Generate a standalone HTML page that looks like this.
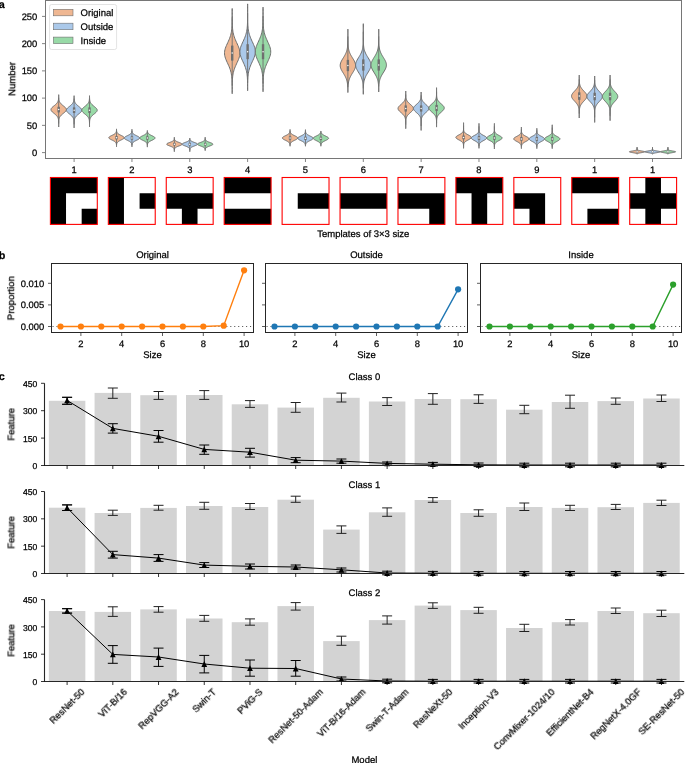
<!DOCTYPE html>
<html><head><meta charset="utf-8"><style>
html,body{margin:0;padding:0;background:#fff;}
body{width:685px;height:763px;overflow:hidden;}
svg{display:block;font-family:"Liberation Sans", sans-serif;}
text{will-change:transform;stroke:#000;stroke-width:0.25px;text-rendering:geometricPrecision;}
</style></head><body>
<svg width="685" height="763" viewBox="0 0 685 763">
<rect width="685" height="763" fill="#fff"/>
<text x="-1.30" y="7.60" font-size="10.8" text-anchor="start" font-weight="bold" fill="#000" >a</text>
<line x1="42.00" y1="152.60" x2="45.50" y2="152.60" stroke="#767676" stroke-width="0.9" />
<text x="37.30" y="155.90" font-size="9.4" text-anchor="end" font-weight="normal" fill="#000" >0</text>
<line x1="42.00" y1="125.36" x2="45.50" y2="125.36" stroke="#767676" stroke-width="0.9" />
<text x="37.30" y="128.66" font-size="9.4" text-anchor="end" font-weight="normal" fill="#000" >50</text>
<line x1="42.00" y1="98.12" x2="45.50" y2="98.12" stroke="#767676" stroke-width="0.9" />
<text x="37.30" y="101.42" font-size="9.4" text-anchor="end" font-weight="normal" fill="#000" >100</text>
<line x1="42.00" y1="70.88" x2="45.50" y2="70.88" stroke="#767676" stroke-width="0.9" />
<text x="37.30" y="74.18" font-size="9.4" text-anchor="end" font-weight="normal" fill="#000" >150</text>
<line x1="42.00" y1="43.64" x2="45.50" y2="43.64" stroke="#767676" stroke-width="0.9" />
<text x="37.30" y="46.94" font-size="9.4" text-anchor="end" font-weight="normal" fill="#000" >200</text>
<line x1="42.00" y1="16.40" x2="45.50" y2="16.40" stroke="#767676" stroke-width="0.9" />
<text x="37.30" y="19.70" font-size="9.4" text-anchor="end" font-weight="normal" fill="#000" >250</text>
<text x="0.00" y="0.00" font-size="9.5" text-anchor="middle" font-weight="normal" fill="#000" transform="translate(15.2,78.9) rotate(-90)">Number</text>
<path d="M58.68,94.70 L58.69,95.24 L58.69,95.78 L58.69,96.31 L58.70,96.85 L58.72,97.39 L58.74,97.93 L58.77,98.47 L58.82,99.01 L58.89,99.55 L58.99,100.08 L59.12,100.62 L59.29,101.16 L59.52,101.70 L59.80,102.24 L60.15,102.78 L60.57,103.31 L61.06,103.85 L61.61,104.39 L62.22,104.93 L62.87,105.47 L63.54,106.00 L64.20,106.54 L64.83,107.08 L65.38,107.62 L65.83,108.16 L66.16,108.70 L66.34,109.23 L66.37,109.77 L66.24,110.31 L65.96,110.85 L65.55,111.39 L65.03,111.93 L64.43,112.47 L63.78,113.00 L63.11,113.54 L62.45,114.08 L61.82,114.62 L61.25,115.16 L60.74,115.69 L60.29,116.23 L59.92,116.77 L59.61,117.31 L59.37,117.85 L59.17,118.39 L59.03,118.92 L58.92,119.46 L58.84,120.00 L58.79,120.54 L58.75,121.08 L58.73,121.62 L58.71,122.16 L58.70,122.69 L58.69,123.23 L58.69,123.77 L58.68,124.31 L58.68,124.85 L58.68,125.39 L58.68,125.92 L58.68,126.46 L58.68,127.00 L58.68,127.00 L58.68,126.46 L58.68,125.92 L58.68,125.39 L58.68,124.85 L58.68,124.31 L58.67,123.77 L58.67,123.23 L58.66,122.69 L58.65,122.16 L58.63,121.62 L58.61,121.08 L58.57,120.54 L58.52,120.00 L58.44,119.46 L58.33,118.92 L58.19,118.39 L57.99,117.85 L57.75,117.31 L57.44,116.77 L57.07,116.23 L56.62,115.69 L56.11,115.16 L55.54,114.62 L54.91,114.08 L54.25,113.54 L53.58,113.00 L52.93,112.47 L52.33,111.93 L51.81,111.39 L51.40,110.85 L51.12,110.31 L50.99,109.77 L51.02,109.23 L51.20,108.70 L51.53,108.16 L51.98,107.62 L52.53,107.08 L53.16,106.54 L53.82,106.00 L54.49,105.47 L55.14,104.93 L55.75,104.39 L56.30,103.85 L56.79,103.31 L57.21,102.78 L57.56,102.24 L57.84,101.70 L58.07,101.16 L58.24,100.62 L58.37,100.08 L58.47,99.55 L58.54,99.01 L58.59,98.47 L58.62,97.93 L58.64,97.39 L58.66,96.85 L58.67,96.31 L58.67,95.78 L58.67,95.24 L58.68,94.70Z" fill="#efb792" stroke="#6f6f6f" stroke-width="1" stroke-linejoin="round"/>
<line x1="58.68" y1="97.68" x2="58.68" y2="123.52" stroke="#6f6f6f" stroke-width="0.9" />
<rect x="57.48" y="106.79" width="2.40" height="5.62" fill="#6f6f6f" stroke="none" stroke-width="0" />
<circle cx="58.68" cy="109.60" r="0.75" fill="#fff"/>
<path d="M74.10,95.70 L74.11,96.24 L74.11,96.77 L74.12,97.31 L74.13,97.85 L74.15,98.38 L74.18,98.92 L74.23,99.46 L74.29,99.99 L74.38,100.53 L74.50,101.07 L74.66,101.60 L74.86,102.14 L75.13,102.68 L75.46,103.21 L75.85,103.75 L76.32,104.29 L76.85,104.82 L77.45,105.36 L78.09,105.90 L78.75,106.43 L79.41,106.97 L80.05,107.51 L80.63,108.04 L81.11,108.58 L81.49,109.12 L81.72,109.65 L81.80,110.19 L81.72,110.73 L81.50,111.26 L81.13,111.80 L80.65,112.34 L80.07,112.87 L79.44,113.41 L78.77,113.95 L78.11,114.48 L77.47,115.02 L76.88,115.56 L76.34,116.09 L75.87,116.63 L75.47,117.17 L75.14,117.70 L74.87,118.24 L74.66,118.78 L74.50,119.31 L74.38,119.85 L74.29,120.39 L74.23,120.92 L74.18,121.46 L74.15,122.00 L74.13,122.53 L74.12,123.07 L74.11,123.61 L74.11,124.14 L74.10,124.68 L74.10,125.22 L74.10,125.75 L74.10,126.29 L74.10,126.83 L74.10,127.36 L74.10,127.90 L74.10,127.90 L74.10,127.36 L74.10,126.83 L74.10,126.29 L74.10,125.75 L74.10,125.22 L74.10,124.68 L74.09,124.14 L74.09,123.61 L74.08,123.07 L74.07,122.53 L74.05,122.00 L74.02,121.46 L73.97,120.92 L73.91,120.39 L73.82,119.85 L73.70,119.31 L73.54,118.78 L73.33,118.24 L73.06,117.70 L72.73,117.17 L72.33,116.63 L71.86,116.09 L71.32,115.56 L70.73,115.02 L70.09,114.48 L69.43,113.95 L68.76,113.41 L68.13,112.87 L67.55,112.34 L67.07,111.80 L66.70,111.26 L66.48,110.73 L66.40,110.19 L66.48,109.65 L66.71,109.12 L67.09,108.58 L67.57,108.04 L68.15,107.51 L68.79,106.97 L69.45,106.43 L70.11,105.90 L70.75,105.36 L71.35,104.82 L71.88,104.29 L72.35,103.75 L72.74,103.21 L73.07,102.68 L73.34,102.14 L73.54,101.60 L73.70,101.07 L73.82,100.53 L73.91,99.99 L73.97,99.46 L74.02,98.92 L74.05,98.38 L74.07,97.85 L74.08,97.31 L74.09,96.77 L74.09,96.24 L74.10,95.70Z" fill="#abc9ea" stroke="#6f6f6f" stroke-width="1" stroke-linejoin="round"/>
<line x1="74.10" y1="98.60" x2="74.10" y2="124.36" stroke="#6f6f6f" stroke-width="0.9" />
<rect x="72.90" y="107.39" width="2.40" height="5.62" fill="#6f6f6f" stroke="none" stroke-width="0" />
<circle cx="74.10" cy="110.20" r="0.75" fill="#fff"/>
<path d="M89.52,95.70 L89.53,96.22 L89.53,96.74 L89.54,97.27 L89.55,97.79 L89.57,98.31 L89.60,98.83 L89.64,99.35 L89.69,99.87 L89.77,100.39 L89.88,100.92 L90.02,101.44 L90.21,101.96 L90.45,102.48 L90.74,103.00 L91.10,103.53 L91.52,104.05 L92.01,104.57 L92.56,105.09 L93.16,105.61 L93.80,106.13 L94.45,106.66 L95.08,107.18 L95.68,107.70 L96.22,108.22 L96.66,108.74 L96.98,109.26 L97.17,109.78 L97.22,110.31 L97.11,110.83 L96.87,111.35 L96.49,111.87 L96.01,112.39 L95.44,112.91 L94.83,113.44 L94.18,113.96 L93.53,114.48 L92.91,115.00 L92.33,115.52 L91.81,116.05 L91.34,116.57 L90.94,117.09 L90.61,117.61 L90.34,118.13 L90.13,118.65 L89.96,119.17 L89.83,119.70 L89.74,120.22 L89.67,120.74 L89.62,121.26 L89.59,121.78 L89.56,122.31 L89.55,122.83 L89.54,123.35 L89.53,123.87 L89.53,124.39 L89.52,124.91 L89.52,125.44 L89.52,125.96 L89.52,126.48 L89.52,127.00 L89.52,127.00 L89.52,126.48 L89.52,125.96 L89.52,125.44 L89.52,124.91 L89.51,124.39 L89.51,123.87 L89.50,123.35 L89.49,122.83 L89.48,122.31 L89.45,121.78 L89.42,121.26 L89.37,120.74 L89.30,120.22 L89.21,119.70 L89.08,119.17 L88.91,118.65 L88.70,118.13 L88.43,117.61 L88.10,117.09 L87.70,116.57 L87.23,116.05 L86.71,115.52 L86.13,115.00 L85.51,114.48 L84.86,113.96 L84.21,113.44 L83.60,112.91 L83.03,112.39 L82.55,111.87 L82.17,111.35 L81.93,110.83 L81.82,110.31 L81.87,109.78 L82.06,109.26 L82.38,108.74 L82.82,108.22 L83.36,107.70 L83.96,107.18 L84.59,106.66 L85.24,106.13 L85.88,105.61 L86.48,105.09 L87.03,104.57 L87.52,104.05 L87.94,103.53 L88.30,103.00 L88.59,102.48 L88.83,101.96 L89.02,101.44 L89.16,100.92 L89.27,100.39 L89.35,99.87 L89.40,99.35 L89.44,98.83 L89.47,98.31 L89.49,97.79 L89.50,97.27 L89.51,96.74 L89.51,96.22 L89.52,95.70Z" fill="#98daa7" stroke="#6f6f6f" stroke-width="1" stroke-linejoin="round"/>
<line x1="89.52" y1="98.60" x2="89.52" y2="123.64" stroke="#6f6f6f" stroke-width="0.9" />
<rect x="88.32" y="107.39" width="2.40" height="5.62" fill="#6f6f6f" stroke="none" stroke-width="0" />
<circle cx="89.52" cy="110.20" r="0.75" fill="#fff"/>
<path d="M116.52,128.90 L116.53,129.20 L116.53,129.50 L116.54,129.80 L116.55,130.09 L116.56,130.39 L116.58,130.69 L116.61,130.99 L116.65,131.29 L116.71,131.59 L116.79,131.88 L116.90,132.18 L117.04,132.48 L117.22,132.78 L117.45,133.08 L117.73,133.38 L118.07,133.67 L118.47,133.97 L118.93,134.27 L119.44,134.57 L120.00,134.87 L120.60,135.17 L121.22,135.46 L121.83,135.76 L122.42,136.06 L122.97,136.36 L123.44,136.66 L123.81,136.96 L124.07,137.25 L124.20,137.55 L124.20,137.85 L124.07,138.15 L123.81,138.45 L123.43,138.75 L122.96,139.04 L122.42,139.34 L121.83,139.64 L121.21,139.94 L120.60,140.24 L120.00,140.53 L119.44,140.83 L118.93,141.13 L118.47,141.43 L118.07,141.73 L117.73,142.03 L117.45,142.33 L117.22,142.62 L117.04,142.92 L116.90,143.22 L116.79,143.52 L116.71,143.82 L116.65,144.12 L116.61,144.41 L116.58,144.71 L116.56,145.01 L116.55,145.31 L116.54,145.61 L116.53,145.91 L116.53,146.20 L116.52,146.50 L116.52,146.80 L116.52,146.80 L116.52,146.50 L116.51,146.20 L116.51,145.91 L116.50,145.61 L116.49,145.31 L116.48,145.01 L116.46,144.71 L116.43,144.41 L116.39,144.12 L116.33,143.82 L116.25,143.52 L116.14,143.22 L116.00,142.92 L115.82,142.62 L115.59,142.33 L115.31,142.03 L114.97,141.73 L114.57,141.43 L114.11,141.13 L113.60,140.83 L113.04,140.53 L112.44,140.24 L111.83,139.94 L111.21,139.64 L110.62,139.34 L110.08,139.04 L109.61,138.75 L109.23,138.45 L108.97,138.15 L108.84,137.85 L108.84,137.55 L108.97,137.25 L109.23,136.96 L109.60,136.66 L110.07,136.36 L110.62,136.06 L111.21,135.76 L111.82,135.46 L112.44,135.17 L113.04,134.87 L113.60,134.57 L114.11,134.27 L114.57,133.97 L114.97,133.67 L115.31,133.38 L115.59,133.08 L115.82,132.78 L116.00,132.48 L116.14,132.18 L116.25,131.88 L116.33,131.59 L116.39,131.29 L116.43,130.99 L116.46,130.69 L116.48,130.39 L116.49,130.09 L116.50,129.80 L116.51,129.50 L116.51,129.20 L116.52,128.90Z" fill="#efb792" stroke="#6f6f6f" stroke-width="1" stroke-linejoin="round"/>
<line x1="116.52" y1="130.66" x2="116.52" y2="144.98" stroke="#6f6f6f" stroke-width="0.9" />
<rect x="115.32" y="136.01" width="2.40" height="3.38" fill="#6f6f6f" stroke="none" stroke-width="0" />
<circle cx="116.52" cy="137.70" r="0.75" fill="#fff"/>
<path d="M131.94,129.30 L131.95,129.59 L131.95,129.88 L131.96,130.18 L131.97,130.47 L131.98,130.76 L132.01,131.05 L132.04,131.34 L132.08,131.63 L132.14,131.93 L132.22,132.22 L132.33,132.51 L132.47,132.80 L132.65,133.09 L132.88,133.38 L133.15,133.68 L133.48,133.97 L133.87,134.26 L134.32,134.55 L134.81,134.84 L135.36,135.13 L135.94,135.43 L136.54,135.72 L137.14,136.01 L137.73,136.30 L138.27,136.59 L138.75,136.88 L139.14,137.18 L139.43,137.47 L139.60,137.76 L139.64,138.05 L139.55,138.34 L139.34,138.63 L139.02,138.93 L138.59,139.22 L138.09,139.51 L137.53,139.80 L136.94,140.09 L136.33,140.38 L135.74,140.68 L135.17,140.97 L134.64,141.26 L134.16,141.55 L133.73,141.84 L133.36,142.13 L133.05,142.43 L132.80,142.72 L132.59,143.01 L132.42,143.30 L132.29,143.59 L132.19,143.88 L132.12,144.18 L132.06,144.47 L132.02,144.76 L132.00,145.05 L131.98,145.34 L131.96,145.63 L131.96,145.93 L131.95,146.22 L131.95,146.51 L131.94,146.80 L131.94,146.80 L131.93,146.51 L131.93,146.22 L131.92,145.93 L131.92,145.63 L131.90,145.34 L131.88,145.05 L131.86,144.76 L131.82,144.47 L131.76,144.18 L131.69,143.88 L131.59,143.59 L131.46,143.30 L131.29,143.01 L131.08,142.72 L130.83,142.43 L130.52,142.13 L130.15,141.84 L129.72,141.55 L129.24,141.26 L128.71,140.97 L128.14,140.68 L127.55,140.38 L126.94,140.09 L126.35,139.80 L125.79,139.51 L125.29,139.22 L124.86,138.93 L124.54,138.63 L124.33,138.34 L124.24,138.05 L124.28,137.76 L124.45,137.47 L124.74,137.18 L125.13,136.88 L125.61,136.59 L126.15,136.30 L126.74,136.01 L127.34,135.72 L127.94,135.43 L128.52,135.13 L129.07,134.84 L129.56,134.55 L130.01,134.26 L130.40,133.97 L130.73,133.68 L131.00,133.38 L131.23,133.09 L131.41,132.80 L131.55,132.51 L131.66,132.22 L131.74,131.93 L131.80,131.63 L131.84,131.34 L131.87,131.05 L131.90,130.76 L131.91,130.47 L131.92,130.18 L131.93,129.88 L131.93,129.59 L131.94,129.30Z" fill="#abc9ea" stroke="#6f6f6f" stroke-width="1" stroke-linejoin="round"/>
<line x1="131.94" y1="131.04" x2="131.94" y2="145.04" stroke="#6f6f6f" stroke-width="0.9" />
<rect x="130.74" y="136.31" width="2.40" height="3.38" fill="#6f6f6f" stroke="none" stroke-width="0" />
<circle cx="131.94" cy="138.00" r="0.75" fill="#fff"/>
<path d="M147.39,130.50 L147.40,130.78 L147.43,131.05 L147.46,131.33 L147.50,131.61 L147.55,131.88 L147.63,132.16 L147.72,132.44 L147.85,132.71 L148.01,132.99 L148.20,133.27 L148.44,133.54 L148.73,133.82 L149.07,134.10 L149.46,134.37 L149.90,134.65 L150.39,134.93 L150.92,135.20 L151.47,135.48 L152.04,135.76 L152.62,136.03 L153.17,136.31 L153.68,136.59 L154.14,136.86 L154.52,137.14 L154.81,137.42 L154.99,137.69 L155.06,137.97 L155.01,138.25 L154.85,138.52 L154.59,138.80 L154.23,139.08 L153.79,139.35 L153.28,139.63 L152.74,139.91 L152.17,140.18 L151.60,140.46 L151.03,140.74 L150.50,141.01 L150.00,141.29 L149.55,141.57 L149.15,141.84 L148.80,142.12 L148.50,142.40 L148.25,142.67 L148.04,142.95 L147.88,143.23 L147.75,143.50 L147.64,143.78 L147.57,144.06 L147.51,144.33 L147.46,144.61 L147.43,144.89 L147.41,145.16 L147.39,145.44 L147.38,145.72 L147.37,145.99 L147.37,146.27 L147.37,146.55 L147.36,146.82 L147.36,147.10 L147.36,147.10 L147.36,146.82 L147.35,146.55 L147.35,146.27 L147.35,145.99 L147.34,145.72 L147.33,145.44 L147.31,145.16 L147.29,144.89 L147.26,144.61 L147.21,144.33 L147.15,144.06 L147.08,143.78 L146.97,143.50 L146.84,143.23 L146.68,142.95 L146.47,142.67 L146.22,142.40 L145.92,142.12 L145.57,141.84 L145.17,141.57 L144.72,141.29 L144.22,141.01 L143.69,140.74 L143.12,140.46 L142.55,140.18 L141.98,139.91 L141.44,139.63 L140.93,139.35 L140.49,139.08 L140.13,138.80 L139.87,138.52 L139.71,138.25 L139.66,137.97 L139.73,137.69 L139.91,137.42 L140.20,137.14 L140.58,136.86 L141.04,136.59 L141.55,136.31 L142.10,136.03 L142.68,135.76 L143.25,135.48 L143.80,135.20 L144.33,134.93 L144.82,134.65 L145.26,134.37 L145.65,134.10 L145.99,133.82 L146.28,133.54 L146.52,133.27 L146.71,132.99 L146.87,132.71 L147.00,132.44 L147.09,132.16 L147.17,131.88 L147.22,131.61 L147.26,131.33 L147.29,131.05 L147.32,130.78 L147.33,130.50Z" fill="#98daa7" stroke="#6f6f6f" stroke-width="1" stroke-linejoin="round"/>
<line x1="147.36" y1="132.00" x2="147.36" y2="145.28" stroke="#6f6f6f" stroke-width="0.9" />
<rect x="146.16" y="136.31" width="2.40" height="3.38" fill="#6f6f6f" stroke="none" stroke-width="0" />
<circle cx="147.36" cy="138.00" r="0.75" fill="#fff"/>
<path d="M174.36,137.20 L174.36,137.44 L174.37,137.68 L174.37,137.92 L174.38,138.17 L174.39,138.41 L174.41,138.65 L174.44,138.89 L174.48,139.13 L174.53,139.38 L174.61,139.62 L174.71,139.86 L174.85,140.10 L175.04,140.34 L175.27,140.58 L175.56,140.82 L175.91,141.07 L176.33,141.31 L176.81,141.55 L177.35,141.79 L177.94,142.03 L178.56,142.27 L179.21,142.52 L179.84,142.76 L180.45,143.00 L180.99,143.24 L181.44,143.48 L181.78,143.72 L181.99,143.97 L182.06,144.21 L181.98,144.45 L181.76,144.69 L181.41,144.93 L180.95,145.17 L180.41,145.42 L179.80,145.66 L179.16,145.90 L178.52,146.14 L177.90,146.38 L177.31,146.62 L176.77,146.87 L176.30,147.11 L175.88,147.35 L175.54,147.59 L175.25,147.83 L175.02,148.07 L174.84,148.32 L174.71,148.56 L174.60,148.80 L174.53,149.04 L174.47,149.28 L174.44,149.52 L174.41,149.77 L174.39,150.01 L174.38,150.25 L174.37,150.49 L174.37,150.73 L174.36,150.97 L174.36,151.22 L174.36,151.46 L174.36,151.70 L174.36,151.70 L174.36,151.46 L174.36,151.22 L174.36,150.97 L174.35,150.73 L174.35,150.49 L174.34,150.25 L174.33,150.01 L174.31,149.77 L174.28,149.52 L174.25,149.28 L174.19,149.04 L174.12,148.80 L174.01,148.56 L173.88,148.32 L173.70,148.07 L173.47,147.83 L173.18,147.59 L172.84,147.35 L172.42,147.11 L171.95,146.87 L171.41,146.62 L170.82,146.38 L170.20,146.14 L169.56,145.90 L168.92,145.66 L168.31,145.42 L167.77,145.17 L167.31,144.93 L166.96,144.69 L166.74,144.45 L166.66,144.21 L166.73,143.97 L166.94,143.72 L167.28,143.48 L167.73,143.24 L168.27,143.00 L168.88,142.76 L169.51,142.52 L170.16,142.27 L170.78,142.03 L171.37,141.79 L171.91,141.55 L172.39,141.31 L172.81,141.07 L173.16,140.82 L173.45,140.58 L173.68,140.34 L173.87,140.10 L174.01,139.86 L174.11,139.62 L174.19,139.38 L174.24,139.13 L174.28,138.89 L174.31,138.65 L174.33,138.41 L174.34,138.17 L174.35,137.92 L174.35,137.68 L174.36,137.44 L174.36,137.20Z" fill="#efb792" stroke="#6f6f6f" stroke-width="1" stroke-linejoin="round"/>
<line x1="174.36" y1="138.60" x2="174.36" y2="150.20" stroke="#6f6f6f" stroke-width="0.9" />
<rect x="173.16" y="142.89" width="2.40" height="2.62" fill="#6f6f6f" stroke="none" stroke-width="0" />
<circle cx="174.36" cy="144.20" r="0.75" fill="#fff"/>
<path d="M189.79,138.00 L189.80,138.23 L189.82,138.46 L189.83,138.69 L189.86,138.91 L189.90,139.14 L189.95,139.37 L190.02,139.60 L190.12,139.83 L190.25,140.06 L190.41,140.28 L190.62,140.51 L190.87,140.74 L191.18,140.97 L191.55,141.20 L191.97,141.43 L192.45,141.65 L192.98,141.88 L193.55,142.11 L194.15,142.34 L194.76,142.57 L195.36,142.79 L195.92,143.02 L196.43,143.25 L196.86,143.48 L197.18,143.71 L197.39,143.94 L197.48,144.16 L197.43,144.39 L197.26,144.62 L196.97,144.85 L196.57,145.08 L196.08,145.31 L195.54,145.53 L194.95,145.76 L194.34,145.99 L193.74,146.22 L193.15,146.45 L192.61,146.68 L192.11,146.91 L191.67,147.13 L191.29,147.36 L190.96,147.59 L190.69,147.82 L190.47,148.05 L190.29,148.28 L190.15,148.50 L190.05,148.73 L189.97,148.96 L189.91,149.19 L189.87,149.42 L189.84,149.64 L189.82,149.87 L189.81,150.10 L189.80,150.33 L189.79,150.56 L189.79,150.79 L189.78,151.01 L189.78,151.24 L189.78,151.47 L189.78,151.70 L189.78,151.70 L189.78,151.47 L189.78,151.24 L189.78,151.01 L189.77,150.79 L189.77,150.56 L189.76,150.33 L189.75,150.10 L189.74,149.87 L189.72,149.64 L189.69,149.42 L189.65,149.19 L189.59,148.96 L189.51,148.73 L189.41,148.50 L189.27,148.28 L189.09,148.05 L188.87,147.82 L188.60,147.59 L188.27,147.36 L187.89,147.13 L187.45,146.91 L186.95,146.68 L186.41,146.45 L185.82,146.22 L185.22,145.99 L184.61,145.76 L184.02,145.53 L183.48,145.31 L182.99,145.08 L182.59,144.85 L182.30,144.62 L182.13,144.39 L182.08,144.16 L182.17,143.94 L182.38,143.71 L182.70,143.48 L183.13,143.25 L183.64,143.02 L184.20,142.79 L184.80,142.57 L185.41,142.34 L186.01,142.11 L186.58,141.88 L187.11,141.65 L187.59,141.43 L188.01,141.20 L188.38,140.97 L188.69,140.74 L188.94,140.51 L189.15,140.28 L189.31,140.06 L189.44,139.83 L189.54,139.60 L189.61,139.37 L189.66,139.14 L189.70,138.91 L189.73,138.69 L189.74,138.46 L189.76,138.23 L189.77,138.00Z" fill="#abc9ea" stroke="#6f6f6f" stroke-width="1" stroke-linejoin="round"/>
<line x1="189.78" y1="139.24" x2="189.78" y2="150.20" stroke="#6f6f6f" stroke-width="0.9" />
<rect x="188.58" y="142.89" width="2.40" height="2.62" fill="#6f6f6f" stroke="none" stroke-width="0" />
<circle cx="189.78" cy="144.20" r="0.75" fill="#fff"/>
<path d="M205.20,137.20 L205.20,137.42 L205.21,137.65 L205.21,137.87 L205.22,138.09 L205.23,138.32 L205.24,138.54 L205.26,138.76 L205.29,138.99 L205.33,139.21 L205.39,139.43 L205.46,139.66 L205.57,139.88 L205.70,140.10 L205.86,140.33 L206.07,140.55 L206.33,140.77 L206.64,141.00 L207.01,141.22 L207.43,141.44 L207.90,141.67 L208.42,141.89 L208.98,142.11 L209.57,142.34 L210.16,142.56 L210.75,142.78 L211.30,143.01 L211.80,143.23 L212.23,143.45 L212.56,143.68 L212.79,143.90 L212.89,144.12 L212.87,144.35 L212.73,144.57 L212.47,144.79 L212.11,145.02 L211.65,145.24 L211.13,145.46 L210.57,145.69 L209.98,145.91 L209.38,146.13 L208.80,146.36 L208.25,146.58 L207.75,146.80 L207.29,147.03 L206.89,147.25 L206.54,147.47 L206.25,147.70 L206.00,147.92 L205.81,148.14 L205.65,148.37 L205.53,148.59 L205.44,148.81 L205.37,149.04 L205.32,149.26 L205.28,149.48 L205.25,149.71 L205.24,149.93 L205.22,150.15 L205.22,150.38 L205.21,150.60 L205.19,150.60 L205.18,150.38 L205.18,150.15 L205.16,149.93 L205.15,149.71 L205.12,149.48 L205.08,149.26 L205.03,149.04 L204.96,148.81 L204.87,148.59 L204.75,148.37 L204.59,148.14 L204.40,147.92 L204.15,147.70 L203.86,147.47 L203.51,147.25 L203.11,147.03 L202.65,146.80 L202.15,146.58 L201.60,146.36 L201.02,146.13 L200.42,145.91 L199.83,145.69 L199.27,145.46 L198.75,145.24 L198.29,145.02 L197.93,144.79 L197.67,144.57 L197.53,144.35 L197.51,144.12 L197.61,143.90 L197.84,143.68 L198.17,143.45 L198.60,143.23 L199.10,143.01 L199.65,142.78 L200.24,142.56 L200.83,142.34 L201.42,142.11 L201.98,141.89 L202.50,141.67 L202.97,141.44 L203.39,141.22 L203.76,141.00 L204.07,140.77 L204.33,140.55 L204.54,140.33 L204.70,140.10 L204.83,139.88 L204.94,139.66 L205.01,139.43 L205.07,139.21 L205.11,138.99 L205.14,138.76 L205.16,138.54 L205.17,138.32 L205.18,138.09 L205.19,137.87 L205.19,137.65 L205.20,137.42 L205.20,137.20Z" fill="#98daa7" stroke="#6f6f6f" stroke-width="1" stroke-linejoin="round"/>
<line x1="205.20" y1="138.60" x2="205.20" y2="149.32" stroke="#6f6f6f" stroke-width="0.9" />
<rect x="204.00" y="142.89" width="2.40" height="2.62" fill="#6f6f6f" stroke="none" stroke-width="0" />
<circle cx="205.20" cy="144.20" r="0.75" fill="#fff"/>
<path d="M232.20,8.50 L232.20,9.92 L232.20,11.34 L232.20,12.76 L232.20,14.18 L232.21,15.60 L232.21,17.02 L232.22,18.44 L232.23,19.86 L232.25,21.28 L232.28,22.70 L232.32,24.12 L232.37,25.54 L232.45,26.96 L232.56,28.38 L232.71,29.80 L232.90,31.22 L233.15,32.64 L233.46,34.06 L233.83,35.48 L234.27,36.90 L234.78,38.32 L235.35,39.74 L235.98,41.16 L236.63,42.58 L237.29,44.00 L237.93,45.42 L238.53,46.84 L239.05,48.26 L239.46,49.68 L239.75,51.10 L239.89,52.52 L239.87,53.94 L239.71,55.36 L239.40,56.78 L238.96,58.20 L238.43,59.62 L237.82,61.04 L237.17,62.46 L236.51,63.88 L235.86,65.30 L235.25,66.72 L234.68,68.14 L234.19,69.56 L233.76,70.98 L233.40,72.40 L233.10,73.82 L232.86,75.24 L232.68,76.66 L232.54,78.08 L232.44,79.50 L232.36,80.92 L232.31,82.34 L232.27,83.76 L232.24,85.18 L232.23,86.60 L232.22,88.02 L232.21,89.44 L232.21,90.86 L232.20,92.28 L232.20,93.70 L232.20,93.70 L232.20,92.28 L232.19,90.86 L232.19,89.44 L232.18,88.02 L232.17,86.60 L232.16,85.18 L232.13,83.76 L232.09,82.34 L232.04,80.92 L231.96,79.50 L231.86,78.08 L231.72,76.66 L231.54,75.24 L231.30,73.82 L231.00,72.40 L230.64,70.98 L230.21,69.56 L229.72,68.14 L229.15,66.72 L228.54,65.30 L227.89,63.88 L227.23,62.46 L226.58,61.04 L225.97,59.62 L225.44,58.20 L225.00,56.78 L224.69,55.36 L224.53,53.94 L224.51,52.52 L224.65,51.10 L224.94,49.68 L225.35,48.26 L225.87,46.84 L226.47,45.42 L227.11,44.00 L227.77,42.58 L228.42,41.16 L229.05,39.74 L229.62,38.32 L230.13,36.90 L230.57,35.48 L230.94,34.06 L231.25,32.64 L231.50,31.22 L231.69,29.80 L231.84,28.38 L231.95,26.96 L232.03,25.54 L232.08,24.12 L232.12,22.70 L232.15,21.28 L232.17,19.86 L232.18,18.44 L232.19,17.02 L232.19,15.60 L232.20,14.18 L232.20,12.76 L232.20,11.34 L232.20,9.92 L232.20,8.50Z" fill="#efb792" stroke="#6f6f6f" stroke-width="1" stroke-linejoin="round"/>
<line x1="232.20" y1="17.42" x2="232.20" y2="85.58" stroke="#6f6f6f" stroke-width="0.9" />
<rect x="231.00" y="45.60" width="2.40" height="15.00" fill="#6f6f6f" stroke="none" stroke-width="0" />
<circle cx="232.20" cy="53.10" r="0.75" fill="#fff"/>
<path d="M247.62,3.90 L247.62,5.35 L247.62,6.79 L247.62,8.24 L247.62,9.69 L247.62,11.13 L247.62,12.58 L247.63,14.03 L247.63,15.47 L247.64,16.92 L247.65,18.37 L247.67,19.81 L247.69,21.26 L247.74,22.71 L247.79,24.15 L247.88,25.60 L247.99,27.05 L248.14,28.49 L248.34,29.94 L248.60,31.39 L248.92,32.83 L249.31,34.28 L249.77,35.73 L250.30,37.17 L250.89,38.62 L251.53,40.07 L252.20,41.51 L252.88,42.96 L253.52,44.41 L254.11,45.85 L254.61,47.30 L254.99,48.75 L255.23,50.19 L255.32,51.64 L255.25,53.09 L255.02,54.53 L254.65,55.98 L254.16,57.43 L253.57,58.87 L252.93,60.32 L252.26,61.77 L251.59,63.21 L250.94,64.66 L250.35,66.11 L249.81,67.55 L249.34,69.00 L248.95,70.45 L248.62,71.89 L248.36,73.34 L248.16,74.79 L248.00,76.23 L247.88,77.68 L247.80,79.13 L247.74,80.57 L247.70,82.02 L247.67,83.47 L247.65,84.91 L247.64,86.36 L247.63,87.81 L247.63,89.25 L247.62,90.70 L247.62,90.70 L247.61,89.25 L247.61,87.81 L247.60,86.36 L247.59,84.91 L247.57,83.47 L247.54,82.02 L247.50,80.57 L247.44,79.13 L247.36,77.68 L247.24,76.23 L247.08,74.79 L246.88,73.34 L246.62,71.89 L246.29,70.45 L245.90,69.00 L245.43,67.55 L244.89,66.11 L244.30,64.66 L243.65,63.21 L242.98,61.77 L242.31,60.32 L241.67,58.87 L241.08,57.43 L240.59,55.98 L240.22,54.53 L239.99,53.09 L239.92,51.64 L240.01,50.19 L240.25,48.75 L240.63,47.30 L241.13,45.85 L241.72,44.41 L242.36,42.96 L243.04,41.51 L243.71,40.07 L244.35,38.62 L244.94,37.17 L245.47,35.73 L245.93,34.28 L246.32,32.83 L246.64,31.39 L246.90,29.94 L247.10,28.49 L247.25,27.05 L247.36,25.60 L247.45,24.15 L247.50,22.71 L247.55,21.26 L247.57,19.81 L247.59,18.37 L247.60,16.92 L247.61,15.47 L247.61,14.03 L247.62,12.58 L247.62,11.13 L247.62,9.69 L247.62,8.24 L247.62,6.79 L247.62,5.35 L247.62,3.90Z" fill="#abc9ea" stroke="#6f6f6f" stroke-width="1" stroke-linejoin="round"/>
<line x1="247.62" y1="13.46" x2="247.62" y2="82.90" stroke="#6f6f6f" stroke-width="0.9" />
<rect x="246.42" y="44.20" width="2.40" height="15.00" fill="#6f6f6f" stroke="none" stroke-width="0" />
<circle cx="247.62" cy="51.70" r="0.75" fill="#fff"/>
<path d="M263.04,7.20 L263.04,8.61 L263.04,10.02 L263.04,11.43 L263.04,12.83 L263.05,14.24 L263.05,15.65 L263.06,17.06 L263.07,18.47 L263.09,19.88 L263.12,21.28 L263.15,22.69 L263.21,24.10 L263.29,25.51 L263.40,26.92 L263.54,28.32 L263.73,29.73 L263.97,31.14 L264.27,32.55 L264.64,33.96 L265.07,35.37 L265.57,36.77 L266.13,38.18 L266.74,39.59 L267.38,41.00 L268.04,42.41 L268.68,43.82 L269.28,45.23 L269.81,46.63 L270.24,48.04 L270.55,49.45 L270.71,50.86 L270.73,52.27 L270.59,53.68 L270.31,55.08 L269.90,56.49 L269.39,57.90 L268.80,59.31 L268.17,60.72 L267.51,62.12 L266.86,63.53 L266.24,64.94 L265.67,66.35 L265.16,67.76 L264.71,69.17 L264.34,70.58 L264.02,71.98 L263.77,73.39 L263.57,74.80 L263.42,76.21 L263.31,77.62 L263.22,79.03 L263.16,80.43 L263.12,81.84 L263.09,83.25 L263.07,84.66 L263.06,86.07 L263.05,87.48 L263.05,88.88 L263.04,90.29 L263.04,91.70 L263.04,91.70 L263.04,90.29 L263.03,88.88 L263.03,87.48 L263.02,86.07 L263.01,84.66 L262.99,83.25 L262.96,81.84 L262.92,80.43 L262.86,79.03 L262.77,77.62 L262.66,76.21 L262.51,74.80 L262.31,73.39 L262.06,71.98 L261.74,70.58 L261.37,69.17 L260.92,67.76 L260.41,66.35 L259.84,64.94 L259.22,63.53 L258.57,62.12 L257.91,60.72 L257.28,59.31 L256.69,57.90 L256.18,56.49 L255.77,55.08 L255.49,53.68 L255.35,52.27 L255.37,50.86 L255.53,49.45 L255.84,48.04 L256.27,46.63 L256.80,45.23 L257.40,43.82 L258.04,42.41 L258.70,41.00 L259.34,39.59 L259.95,38.18 L260.51,36.77 L261.01,35.37 L261.44,33.96 L261.81,32.55 L262.11,31.14 L262.35,29.73 L262.54,28.32 L262.68,26.92 L262.79,25.51 L262.87,24.10 L262.93,22.69 L262.96,21.28 L262.99,19.88 L263.01,18.47 L263.02,17.06 L263.03,15.65 L263.03,14.24 L263.04,12.83 L263.04,11.43 L263.04,10.02 L263.04,8.61 L263.04,7.20Z" fill="#98daa7" stroke="#6f6f6f" stroke-width="1" stroke-linejoin="round"/>
<line x1="263.04" y1="16.10" x2="263.04" y2="83.70" stroke="#6f6f6f" stroke-width="0.9" />
<rect x="261.84" y="44.20" width="2.40" height="15.00" fill="#6f6f6f" stroke="none" stroke-width="0" />
<circle cx="263.04" cy="51.70" r="0.75" fill="#fff"/>
<path d="M290.05,129.50 L290.05,129.78 L290.06,130.06 L290.06,130.34 L290.08,130.61 L290.09,130.89 L290.12,131.17 L290.15,131.45 L290.20,131.73 L290.26,132.00 L290.35,132.28 L290.45,132.56 L290.60,132.84 L290.77,133.12 L290.99,133.40 L291.25,133.68 L291.57,133.95 L291.93,134.23 L292.35,134.51 L292.82,134.79 L293.33,135.07 L293.88,135.34 L294.45,135.62 L295.02,135.90 L295.59,136.18 L296.13,136.46 L296.62,136.74 L297.04,137.01 L297.37,137.29 L297.60,137.57 L297.72,137.85 L297.73,138.13 L297.62,138.41 L297.39,138.69 L297.07,138.96 L296.65,139.24 L296.17,139.52 L295.63,139.80 L295.07,140.08 L294.49,140.35 L293.92,140.63 L293.37,140.91 L292.86,141.19 L292.39,141.47 L291.96,141.75 L291.59,142.03 L291.28,142.30 L291.01,142.58 L290.79,142.86 L290.61,143.14 L290.46,143.42 L290.35,143.69 L290.27,143.97 L290.20,144.25 L290.15,144.53 L290.12,144.81 L290.09,145.09 L290.08,145.36 L290.06,145.64 L290.06,145.92 L290.05,146.20 L290.03,146.20 L290.02,145.92 L290.02,145.64 L290.00,145.36 L289.99,145.09 L289.96,144.81 L289.93,144.53 L289.88,144.25 L289.81,143.97 L289.73,143.69 L289.62,143.42 L289.47,143.14 L289.29,142.86 L289.07,142.58 L288.80,142.30 L288.49,142.03 L288.12,141.75 L287.69,141.47 L287.22,141.19 L286.71,140.91 L286.16,140.63 L285.59,140.35 L285.01,140.08 L284.45,139.80 L283.91,139.52 L283.43,139.24 L283.01,138.96 L282.69,138.69 L282.46,138.41 L282.35,138.13 L282.36,137.85 L282.48,137.57 L282.71,137.29 L283.04,137.01 L283.46,136.74 L283.95,136.46 L284.49,136.18 L285.06,135.90 L285.63,135.62 L286.20,135.34 L286.75,135.07 L287.26,134.79 L287.73,134.51 L288.15,134.23 L288.51,133.95 L288.83,133.68 L289.09,133.40 L289.31,133.12 L289.48,132.84 L289.63,132.56 L289.73,132.28 L289.82,132.00 L289.88,131.73 L289.93,131.45 L289.96,131.17 L289.99,130.89 L290.00,130.61 L290.02,130.34 L290.02,130.06 L290.03,129.78 L290.03,129.50Z" fill="#efb792" stroke="#6f6f6f" stroke-width="1" stroke-linejoin="round"/>
<line x1="290.04" y1="131.20" x2="290.04" y2="144.56" stroke="#6f6f6f" stroke-width="0.9" />
<rect x="288.84" y="136.31" width="2.40" height="3.38" fill="#6f6f6f" stroke="none" stroke-width="0" />
<circle cx="290.04" cy="138.00" r="0.75" fill="#fff"/>
<path d="M305.47,129.70 L305.47,129.97 L305.47,130.25 L305.48,130.52 L305.49,130.80 L305.50,131.07 L305.53,131.35 L305.55,131.62 L305.59,131.90 L305.65,132.17 L305.72,132.45 L305.82,132.72 L305.94,133.00 L306.10,133.27 L306.29,133.55 L306.53,133.82 L306.81,134.10 L307.14,134.38 L307.53,134.65 L307.96,134.92 L308.44,135.20 L308.96,135.47 L309.51,135.75 L310.08,136.02 L310.65,136.30 L311.20,136.57 L311.72,136.85 L312.18,137.12 L312.57,137.40 L312.87,137.67 L313.07,137.95 L313.16,138.22 L313.13,138.50 L312.99,138.77 L312.74,139.05 L312.40,139.32 L311.98,139.60 L311.49,139.88 L310.95,140.15 L310.39,140.42 L309.82,140.70 L309.26,140.97 L308.72,141.25 L308.22,141.52 L307.76,141.80 L307.34,142.07 L306.98,142.35 L306.67,142.62 L306.41,142.90 L306.20,143.17 L306.02,143.45 L305.88,143.72 L305.77,144.00 L305.69,144.27 L305.62,144.55 L305.57,144.82 L305.54,145.10 L305.51,145.38 L305.50,145.65 L305.48,145.92 L305.48,146.20 L305.44,146.20 L305.44,145.92 L305.42,145.65 L305.41,145.38 L305.38,145.10 L305.35,144.82 L305.30,144.55 L305.23,144.27 L305.15,144.00 L305.04,143.72 L304.90,143.45 L304.72,143.17 L304.51,142.90 L304.25,142.62 L303.94,142.35 L303.58,142.07 L303.16,141.80 L302.70,141.52 L302.20,141.25 L301.66,140.97 L301.10,140.70 L300.53,140.42 L299.97,140.15 L299.43,139.88 L298.94,139.60 L298.52,139.32 L298.18,139.05 L297.93,138.77 L297.79,138.50 L297.76,138.22 L297.85,137.95 L298.05,137.67 L298.35,137.40 L298.74,137.12 L299.20,136.85 L299.72,136.57 L300.27,136.30 L300.84,136.02 L301.41,135.75 L301.96,135.47 L302.48,135.20 L302.96,134.92 L303.39,134.65 L303.78,134.38 L304.11,134.10 L304.39,133.82 L304.63,133.55 L304.82,133.27 L304.98,133.00 L305.10,132.72 L305.20,132.45 L305.27,132.17 L305.33,131.90 L305.37,131.62 L305.39,131.35 L305.42,131.07 L305.43,130.80 L305.44,130.52 L305.45,130.25 L305.45,129.97 L305.45,129.70Z" fill="#abc9ea" stroke="#6f6f6f" stroke-width="1" stroke-linejoin="round"/>
<line x1="305.46" y1="131.42" x2="305.46" y2="144.62" stroke="#6f6f6f" stroke-width="0.9" />
<rect x="304.26" y="136.61" width="2.40" height="3.38" fill="#6f6f6f" stroke="none" stroke-width="0" />
<circle cx="305.46" cy="138.30" r="0.75" fill="#fff"/>
<path d="M320.92,131.00 L320.94,131.25 L320.96,131.51 L320.99,131.76 L321.04,132.01 L321.09,132.27 L321.16,132.52 L321.26,132.77 L321.37,133.03 L321.52,133.28 L321.70,133.53 L321.91,133.79 L322.16,134.04 L322.46,134.29 L322.80,134.55 L323.18,134.80 L323.60,135.05 L324.06,135.31 L324.55,135.56 L325.06,135.81 L325.58,136.07 L326.11,136.32 L326.62,136.57 L327.09,136.83 L327.53,137.08 L327.90,137.33 L328.20,137.59 L328.42,137.84 L328.55,138.09 L328.58,138.35 L328.51,138.60 L328.35,138.85 L328.10,139.11 L327.77,139.36 L327.37,139.61 L326.92,139.87 L326.43,140.12 L325.92,140.37 L325.39,140.63 L324.87,140.88 L324.36,141.13 L323.88,141.39 L323.44,141.64 L323.03,141.89 L322.67,142.15 L322.34,142.40 L322.06,142.65 L321.83,142.91 L321.63,143.16 L321.46,143.41 L321.33,143.67 L321.22,143.92 L321.14,144.17 L321.07,144.43 L321.02,144.68 L320.98,144.93 L320.95,145.19 L320.93,145.44 L320.91,145.69 L320.90,145.95 L320.90,146.20 L320.86,146.20 L320.86,145.95 L320.85,145.69 L320.83,145.44 L320.81,145.19 L320.78,144.93 L320.74,144.68 L320.69,144.43 L320.62,144.17 L320.54,143.92 L320.43,143.67 L320.30,143.41 L320.13,143.16 L319.93,142.91 L319.70,142.65 L319.42,142.40 L319.09,142.15 L318.73,141.89 L318.32,141.64 L317.88,141.39 L317.40,141.13 L316.89,140.88 L316.37,140.63 L315.84,140.37 L315.33,140.12 L314.84,139.87 L314.39,139.61 L313.99,139.36 L313.66,139.11 L313.41,138.85 L313.25,138.60 L313.18,138.35 L313.21,138.09 L313.34,137.84 L313.56,137.59 L313.86,137.33 L314.23,137.08 L314.67,136.83 L315.14,136.57 L315.65,136.32 L316.18,136.07 L316.70,135.81 L317.21,135.56 L317.70,135.31 L318.16,135.05 L318.58,134.80 L318.96,134.55 L319.30,134.29 L319.60,134.04 L319.85,133.79 L320.06,133.53 L320.24,133.28 L320.39,133.03 L320.50,132.77 L320.60,132.52 L320.67,132.27 L320.72,132.01 L320.77,131.76 L320.80,131.51 L320.82,131.25 L320.84,131.00Z" fill="#98daa7" stroke="#6f6f6f" stroke-width="1" stroke-linejoin="round"/>
<line x1="320.88" y1="132.46" x2="320.88" y2="144.62" stroke="#6f6f6f" stroke-width="0.9" />
<rect x="319.68" y="136.61" width="2.40" height="3.38" fill="#6f6f6f" stroke="none" stroke-width="0" />
<circle cx="320.88" cy="138.30" r="0.75" fill="#fff"/>
<path d="M347.88,29.20 L347.88,30.25 L347.88,31.31 L347.88,32.37 L347.88,33.42 L347.88,34.48 L347.88,35.53 L347.88,36.59 L347.89,37.64 L347.89,38.70 L347.90,39.75 L347.91,40.80 L347.93,41.86 L347.96,42.91 L348.01,43.97 L348.07,45.02 L348.15,46.08 L348.26,47.13 L348.42,48.19 L348.62,49.25 L348.87,50.30 L349.18,51.35 L349.56,52.41 L350.00,53.46 L350.52,54.52 L351.09,55.58 L351.71,56.63 L352.35,57.69 L353.01,58.74 L353.65,59.79 L354.23,60.85 L354.74,61.91 L355.15,62.96 L355.43,64.02 L355.57,65.07 L355.55,66.12 L355.39,67.18 L355.08,68.23 L354.66,69.29 L354.13,70.34 L353.53,71.40 L352.89,72.45 L352.23,73.51 L351.59,74.56 L350.98,75.62 L350.42,76.67 L349.92,77.73 L349.48,78.78 L349.12,79.84 L348.82,80.89 L348.57,81.95 L348.39,83.00 L348.24,84.06 L348.13,85.11 L348.05,86.17 L348.00,87.22 L347.96,88.28 L347.93,89.33 L347.91,90.39 L347.90,91.44 L347.89,92.50 L347.87,92.50 L347.86,91.44 L347.85,90.39 L347.83,89.33 L347.80,88.28 L347.76,87.22 L347.71,86.17 L347.63,85.11 L347.52,84.06 L347.37,83.00 L347.19,81.95 L346.94,80.89 L346.64,79.84 L346.28,78.78 L345.84,77.73 L345.34,76.67 L344.78,75.62 L344.17,74.56 L343.53,73.51 L342.87,72.45 L342.23,71.40 L341.63,70.34 L341.10,69.29 L340.68,68.23 L340.37,67.18 L340.21,66.12 L340.19,65.07 L340.33,64.02 L340.61,62.96 L341.02,61.91 L341.53,60.85 L342.11,59.79 L342.75,58.74 L343.41,57.69 L344.05,56.63 L344.67,55.58 L345.24,54.52 L345.76,53.46 L346.20,52.41 L346.58,51.35 L346.89,50.30 L347.14,49.25 L347.34,48.19 L347.50,47.13 L347.61,46.08 L347.69,45.02 L347.75,43.97 L347.80,42.91 L347.83,41.86 L347.85,40.80 L347.86,39.75 L347.87,38.70 L347.87,37.64 L347.88,36.59 L347.88,35.53 L347.88,34.48 L347.88,33.42 L347.88,32.37 L347.88,31.31 L347.88,30.25 L347.88,29.20Z" fill="#efb792" stroke="#6f6f6f" stroke-width="1" stroke-linejoin="round"/>
<line x1="347.88" y1="36.46" x2="347.88" y2="87.10" stroke="#6f6f6f" stroke-width="0.9" />
<rect x="346.68" y="59.88" width="2.40" height="11.25" fill="#6f6f6f" stroke="none" stroke-width="0" />
<circle cx="347.88" cy="65.50" r="0.75" fill="#fff"/>
<path d="M363.30,23.70 L363.30,24.88 L363.30,26.05 L363.30,27.23 L363.30,28.41 L363.30,29.58 L363.30,30.76 L363.30,31.94 L363.30,33.11 L363.30,34.29 L363.30,35.47 L363.31,36.64 L363.31,37.82 L363.32,39.00 L363.33,40.17 L363.35,41.35 L363.39,42.53 L363.44,43.70 L363.51,44.88 L363.62,46.06 L363.77,47.23 L363.97,48.41 L364.23,49.59 L364.57,50.76 L364.99,51.94 L365.49,53.12 L366.08,54.29 L366.73,55.47 L367.44,56.65 L368.17,57.82 L368.89,59.00 L369.56,60.18 L370.14,61.35 L370.59,62.53 L370.89,63.71 L371.00,64.88 L370.92,66.06 L370.67,67.24 L370.24,68.41 L369.68,69.59 L369.03,70.77 L368.32,71.94 L367.59,73.12 L366.87,74.30 L366.20,75.47 L365.60,76.65 L365.08,77.83 L364.65,79.00 L364.29,80.18 L364.01,81.36 L363.80,82.53 L363.64,83.71 L363.53,84.89 L363.45,86.06 L363.39,87.24 L363.36,88.42 L363.34,89.59 L363.32,90.77 L363.31,91.95 L363.31,93.12 L363.30,94.30 L363.30,94.30 L363.29,93.12 L363.29,91.95 L363.28,90.77 L363.26,89.59 L363.24,88.42 L363.21,87.24 L363.15,86.06 L363.07,84.89 L362.96,83.71 L362.80,82.53 L362.59,81.36 L362.31,80.18 L361.95,79.00 L361.52,77.83 L361.00,76.65 L360.40,75.47 L359.73,74.30 L359.01,73.12 L358.28,71.94 L357.57,70.77 L356.92,69.59 L356.36,68.41 L355.93,67.24 L355.68,66.06 L355.60,64.88 L355.71,63.71 L356.01,62.53 L356.46,61.35 L357.04,60.18 L357.71,59.00 L358.43,57.82 L359.16,56.65 L359.87,55.47 L360.52,54.29 L361.11,53.12 L361.61,51.94 L362.03,50.76 L362.37,49.59 L362.63,48.41 L362.83,47.23 L362.98,46.06 L363.09,44.88 L363.16,43.70 L363.21,42.53 L363.25,41.35 L363.27,40.17 L363.28,39.00 L363.29,37.82 L363.29,36.64 L363.30,35.47 L363.30,34.29 L363.30,33.11 L363.30,31.94 L363.30,30.76 L363.30,29.58 L363.30,28.41 L363.30,27.23 L363.30,26.05 L363.30,24.88 L363.30,23.70Z" fill="#abc9ea" stroke="#6f6f6f" stroke-width="1" stroke-linejoin="round"/>
<line x1="363.30" y1="31.96" x2="363.30" y2="88.44" stroke="#6f6f6f" stroke-width="0.9" />
<rect x="362.10" y="59.38" width="2.40" height="11.25" fill="#6f6f6f" stroke="none" stroke-width="0" />
<circle cx="363.30" cy="65.00" r="0.75" fill="#fff"/>
<path d="M378.72,29.20 L378.72,30.25 L378.72,31.29 L378.72,32.34 L378.72,33.38 L378.72,34.42 L378.72,35.47 L378.73,36.52 L378.73,37.56 L378.74,38.61 L378.75,39.65 L378.76,40.70 L378.78,41.74 L378.82,42.78 L378.86,43.83 L378.93,44.88 L379.02,45.92 L379.15,46.97 L379.31,48.01 L379.52,49.05 L379.79,50.10 L380.12,51.14 L380.51,52.19 L380.97,53.23 L381.49,54.28 L382.07,55.33 L382.69,56.37 L383.34,57.41 L383.98,58.46 L384.61,59.51 L385.18,60.55 L385.67,61.59 L386.05,62.64 L386.30,63.69 L386.42,64.73 L386.38,65.78 L386.20,66.82 L385.88,67.86 L385.44,68.91 L384.91,69.95 L384.31,71.00 L383.67,72.05 L383.02,73.09 L382.39,74.13 L381.78,75.18 L381.23,76.22 L380.74,77.27 L380.31,78.31 L379.95,79.36 L379.65,80.41 L379.41,81.45 L379.23,82.50 L379.08,83.54 L378.97,84.59 L378.90,85.63 L378.84,86.67 L378.80,87.72 L378.77,88.77 L378.75,89.81 L378.74,90.86 L378.73,91.90 L378.71,91.90 L378.70,90.86 L378.69,89.81 L378.67,88.77 L378.64,87.72 L378.60,86.67 L378.54,85.63 L378.47,84.59 L378.36,83.54 L378.21,82.50 L378.03,81.45 L377.79,80.41 L377.49,79.36 L377.13,78.31 L376.70,77.27 L376.21,76.22 L375.66,75.18 L375.05,74.13 L374.42,73.09 L373.77,72.05 L373.13,71.00 L372.53,69.95 L372.00,68.91 L371.56,67.86 L371.24,66.82 L371.06,65.78 L371.02,64.73 L371.14,63.69 L371.39,62.64 L371.77,61.59 L372.26,60.55 L372.83,59.51 L373.46,58.46 L374.10,57.41 L374.75,56.37 L375.37,55.33 L375.95,54.28 L376.47,53.23 L376.93,52.19 L377.32,51.14 L377.65,50.10 L377.92,49.05 L378.13,48.01 L378.29,46.97 L378.42,45.92 L378.51,44.88 L378.58,43.83 L378.62,42.78 L378.66,41.74 L378.68,40.70 L378.69,39.65 L378.70,38.61 L378.71,37.56 L378.71,36.52 L378.72,35.47 L378.72,34.42 L378.72,33.38 L378.72,32.34 L378.72,31.29 L378.72,30.25 L378.72,29.20Z" fill="#98daa7" stroke="#6f6f6f" stroke-width="1" stroke-linejoin="round"/>
<line x1="378.72" y1="36.36" x2="378.72" y2="86.52" stroke="#6f6f6f" stroke-width="0.9" />
<rect x="377.52" y="59.38" width="2.40" height="11.25" fill="#6f6f6f" stroke="none" stroke-width="0" />
<circle cx="378.72" cy="65.00" r="0.75" fill="#fff"/>
<path d="M405.72,91.00 L405.72,91.63 L405.72,92.25 L405.73,92.88 L405.73,93.51 L405.74,94.13 L405.75,94.76 L405.77,95.39 L405.79,96.01 L405.84,96.64 L405.90,97.27 L405.99,97.89 L406.12,98.52 L406.29,99.15 L406.52,99.77 L406.81,100.40 L407.18,101.03 L407.63,101.65 L408.16,102.28 L408.76,102.91 L409.42,103.53 L410.12,104.16 L410.83,104.79 L411.52,105.41 L412.15,106.04 L412.69,106.67 L413.09,107.29 L413.34,107.92 L413.42,108.55 L413.32,109.17 L413.04,109.80 L412.62,110.43 L412.06,111.05 L411.42,111.68 L410.72,112.31 L410.01,112.93 L409.32,113.56 L408.66,114.19 L408.07,114.81 L407.56,115.44 L407.12,116.07 L406.77,116.69 L406.48,117.32 L406.26,117.95 L406.10,118.57 L405.98,119.20 L405.89,119.83 L405.83,120.45 L405.79,121.08 L405.76,121.71 L405.75,122.33 L405.74,122.96 L405.73,123.59 L405.72,124.21 L405.72,124.84 L405.72,125.47 L405.72,126.09 L405.72,126.72 L405.72,127.35 L405.72,127.97 L405.72,128.60 L405.72,128.60 L405.72,127.97 L405.72,127.35 L405.72,126.72 L405.72,126.09 L405.72,125.47 L405.72,124.84 L405.72,124.21 L405.71,123.59 L405.70,122.96 L405.69,122.33 L405.68,121.71 L405.65,121.08 L405.61,120.45 L405.55,119.83 L405.46,119.20 L405.34,118.57 L405.18,117.95 L404.96,117.32 L404.67,116.69 L404.32,116.07 L403.88,115.44 L403.37,114.81 L402.78,114.19 L402.12,113.56 L401.43,112.93 L400.72,112.31 L400.02,111.68 L399.38,111.05 L398.82,110.43 L398.40,109.80 L398.12,109.17 L398.02,108.55 L398.10,107.92 L398.35,107.29 L398.75,106.67 L399.29,106.04 L399.92,105.41 L400.61,104.79 L401.32,104.16 L402.02,103.53 L402.68,102.91 L403.28,102.28 L403.81,101.65 L404.26,101.03 L404.63,100.40 L404.92,99.77 L405.15,99.15 L405.32,98.52 L405.45,97.89 L405.54,97.27 L405.60,96.64 L405.65,96.01 L405.67,95.39 L405.69,94.76 L405.70,94.13 L405.71,93.51 L405.71,92.88 L405.72,92.25 L405.72,91.63 L405.72,91.00Z" fill="#efb792" stroke="#6f6f6f" stroke-width="1" stroke-linejoin="round"/>
<line x1="405.72" y1="94.50" x2="405.72" y2="124.58" stroke="#6f6f6f" stroke-width="0.9" />
<rect x="404.52" y="105.42" width="2.40" height="6.15" fill="#6f6f6f" stroke="none" stroke-width="0" />
<circle cx="405.72" cy="108.50" r="0.75" fill="#fff"/>
<path d="M421.14,92.00 L421.14,92.64 L421.15,93.28 L421.15,93.92 L421.16,94.56 L421.18,95.20 L421.21,95.84 L421.24,96.48 L421.30,97.12 L421.39,97.76 L421.51,98.40 L421.68,99.04 L421.90,99.68 L422.19,100.32 L422.56,100.96 L423.01,101.60 L423.54,102.24 L424.15,102.88 L424.82,103.52 L425.54,104.16 L426.26,104.80 L426.97,105.44 L427.61,106.08 L428.15,106.72 L428.55,107.36 L428.78,108.00 L428.84,108.64 L428.70,109.28 L428.39,109.92 L427.93,110.56 L427.34,111.20 L426.67,111.84 L425.95,112.48 L425.22,113.12 L424.52,113.76 L423.87,114.40 L423.30,115.04 L422.80,115.68 L422.39,116.32 L422.06,116.96 L421.80,117.60 L421.60,118.24 L421.45,118.88 L421.35,119.52 L421.27,120.16 L421.23,120.80 L421.19,121.44 L421.17,122.08 L421.16,122.72 L421.15,123.36 L421.15,124.00 L421.14,124.64 L421.14,125.28 L421.14,125.92 L421.14,126.56 L421.14,127.20 L421.14,127.84 L421.14,128.48 L421.14,129.12 L421.14,129.76 L421.14,130.40 L421.14,130.40 L421.14,129.76 L421.14,129.12 L421.14,128.48 L421.14,127.84 L421.14,127.20 L421.14,126.56 L421.14,125.92 L421.14,125.28 L421.14,124.64 L421.13,124.00 L421.13,123.36 L421.12,122.72 L421.11,122.08 L421.09,121.44 L421.05,120.80 L421.01,120.16 L420.93,119.52 L420.83,118.88 L420.68,118.24 L420.48,117.60 L420.22,116.96 L419.89,116.32 L419.48,115.68 L418.98,115.04 L418.41,114.40 L417.76,113.76 L417.06,113.12 L416.33,112.48 L415.61,111.84 L414.94,111.20 L414.35,110.56 L413.89,109.92 L413.58,109.28 L413.44,108.64 L413.50,108.00 L413.73,107.36 L414.13,106.72 L414.67,106.08 L415.31,105.44 L416.02,104.80 L416.74,104.16 L417.46,103.52 L418.13,102.88 L418.74,102.24 L419.27,101.60 L419.72,100.96 L420.09,100.32 L420.38,99.68 L420.60,99.04 L420.77,98.40 L420.89,97.76 L420.98,97.12 L421.04,96.48 L421.07,95.84 L421.10,95.20 L421.12,94.56 L421.13,93.92 L421.13,93.28 L421.14,92.64 L421.14,92.00Z" fill="#abc9ea" stroke="#6f6f6f" stroke-width="1" stroke-linejoin="round"/>
<line x1="421.14" y1="95.30" x2="421.14" y2="126.02" stroke="#6f6f6f" stroke-width="0.9" />
<rect x="419.94" y="105.42" width="2.40" height="6.15" fill="#6f6f6f" stroke="none" stroke-width="0" />
<circle cx="421.14" cy="108.50" r="0.75" fill="#fff"/>
<path d="M436.56,87.70 L436.56,88.36 L436.56,89.01 L436.56,89.67 L436.56,90.33 L436.56,90.98 L436.56,91.64 L436.57,92.30 L436.57,92.95 L436.58,93.61 L436.59,94.27 L436.61,94.92 L436.64,95.58 L436.69,96.24 L436.76,96.89 L436.86,97.55 L437.00,98.21 L437.20,98.86 L437.47,99.52 L437.81,100.18 L438.23,100.83 L438.74,101.49 L439.34,102.15 L440.01,102.80 L440.73,103.46 L441.48,104.12 L442.21,104.77 L442.89,105.43 L443.47,106.09 L443.91,106.74 L444.18,107.40 L444.26,108.06 L444.14,108.71 L443.84,109.37 L443.37,110.03 L442.78,110.68 L442.09,111.34 L441.35,112.00 L440.60,112.65 L439.89,113.31 L439.23,113.97 L438.65,114.62 L438.15,115.28 L437.74,115.94 L437.42,116.59 L437.16,117.25 L436.98,117.91 L436.84,118.56 L436.74,119.22 L436.68,119.88 L436.63,120.53 L436.60,121.19 L436.59,121.85 L436.57,122.50 L436.57,123.16 L436.56,123.82 L436.56,124.47 L436.56,125.13 L436.56,125.79 L436.56,126.44 L436.56,127.10 L436.56,127.10 L436.56,126.44 L436.56,125.79 L436.56,125.13 L436.56,124.47 L436.56,123.82 L436.55,123.16 L436.55,122.50 L436.53,121.85 L436.52,121.19 L436.49,120.53 L436.44,119.88 L436.38,119.22 L436.28,118.56 L436.14,117.91 L435.96,117.25 L435.70,116.59 L435.38,115.94 L434.97,115.28 L434.47,114.62 L433.89,113.97 L433.23,113.31 L432.52,112.65 L431.77,112.00 L431.03,111.34 L430.34,110.68 L429.75,110.03 L429.28,109.37 L428.98,108.71 L428.86,108.06 L428.94,107.40 L429.21,106.74 L429.65,106.09 L430.23,105.43 L430.91,104.77 L431.64,104.12 L432.39,103.46 L433.11,102.80 L433.78,102.15 L434.38,101.49 L434.89,100.83 L435.31,100.18 L435.65,99.52 L435.92,98.86 L436.12,98.21 L436.26,97.55 L436.36,96.89 L436.43,96.24 L436.48,95.58 L436.51,94.92 L436.53,94.27 L436.54,93.61 L436.55,92.95 L436.55,92.30 L436.56,91.64 L436.56,90.98 L436.56,90.33 L436.56,89.67 L436.56,89.01 L436.56,88.36 L436.56,87.70Z" fill="#98daa7" stroke="#6f6f6f" stroke-width="1" stroke-linejoin="round"/>
<line x1="436.56" y1="91.76" x2="436.56" y2="123.28" stroke="#6f6f6f" stroke-width="0.9" />
<rect x="435.36" y="104.92" width="2.40" height="6.15" fill="#6f6f6f" stroke="none" stroke-width="0" />
<circle cx="436.56" cy="108.00" r="0.75" fill="#fff"/>
<path d="M463.56,122.70 L463.56,123.13 L463.56,123.55 L463.56,123.98 L463.56,124.41 L463.56,124.83 L463.56,125.26 L463.56,125.69 L463.56,126.11 L463.56,126.54 L463.56,126.97 L463.56,127.39 L463.56,127.82 L463.57,128.25 L463.58,128.67 L463.59,129.10 L463.61,129.53 L463.65,129.95 L463.71,130.38 L463.80,130.81 L463.93,131.23 L464.11,131.66 L464.36,132.09 L464.70,132.51 L465.13,132.94 L465.66,133.37 L466.28,133.79 L466.99,134.22 L467.76,134.65 L468.55,135.07 L469.33,135.50 L470.03,135.93 L470.61,136.35 L471.03,136.78 L471.24,137.21 L471.23,137.63 L471.00,138.06 L470.57,138.49 L469.97,138.91 L469.26,139.34 L468.48,139.77 L467.68,140.19 L466.92,140.62 L466.22,141.05 L465.60,141.47 L465.08,141.90 L464.66,142.33 L464.34,142.75 L464.09,143.18 L463.91,143.61 L463.79,144.03 L463.70,144.46 L463.65,144.89 L463.61,145.31 L463.59,145.74 L463.58,146.17 L463.57,146.59 L463.56,147.02 L463.56,147.45 L463.56,147.87 L463.56,148.30 L463.56,148.30 L463.56,147.87 L463.56,147.45 L463.56,147.02 L463.55,146.59 L463.54,146.17 L463.53,145.74 L463.51,145.31 L463.47,144.89 L463.42,144.46 L463.33,144.03 L463.21,143.61 L463.03,143.18 L462.78,142.75 L462.46,142.33 L462.04,141.90 L461.52,141.47 L460.90,141.05 L460.20,140.62 L459.44,140.19 L458.64,139.77 L457.86,139.34 L457.15,138.91 L456.55,138.49 L456.12,138.06 L455.89,137.63 L455.88,137.21 L456.09,136.78 L456.51,136.35 L457.09,135.93 L457.79,135.50 L458.57,135.07 L459.36,134.65 L460.13,134.22 L460.84,133.79 L461.46,133.37 L461.99,132.94 L462.42,132.51 L462.76,132.09 L463.01,131.66 L463.19,131.23 L463.32,130.81 L463.41,130.38 L463.47,129.95 L463.51,129.53 L463.53,129.10 L463.54,128.67 L463.55,128.25 L463.56,127.82 L463.56,127.39 L463.56,126.97 L463.56,126.54 L463.56,126.11 L463.56,125.69 L463.56,125.26 L463.56,124.83 L463.56,124.41 L463.56,123.98 L463.56,123.55 L463.56,123.13 L463.56,122.70Z" fill="#efb792" stroke="#6f6f6f" stroke-width="1" stroke-linejoin="round"/>
<line x1="463.56" y1="125.64" x2="463.56" y2="146.12" stroke="#6f6f6f" stroke-width="0.9" />
<rect x="462.36" y="135.53" width="2.40" height="3.75" fill="#6f6f6f" stroke="none" stroke-width="0" />
<circle cx="463.56" cy="137.40" r="0.75" fill="#fff"/>
<path d="M478.98,123.40 L478.98,123.82 L478.98,124.23 L478.98,124.65 L478.98,125.06 L478.98,125.48 L478.98,125.89 L478.98,126.31 L478.98,126.72 L478.98,127.14 L478.98,127.55 L478.98,127.97 L478.98,128.38 L478.99,128.80 L479.00,129.21 L479.01,129.62 L479.03,130.04 L479.06,130.46 L479.11,130.87 L479.19,131.28 L479.30,131.70 L479.46,132.12 L479.68,132.53 L479.98,132.95 L480.36,133.36 L480.83,133.78 L481.39,134.19 L482.04,134.61 L482.76,135.02 L483.53,135.44 L484.30,135.85 L485.03,136.27 L485.68,136.68 L486.19,137.09 L486.53,137.51 L486.68,137.93 L486.61,138.34 L486.34,138.75 L485.88,139.17 L485.28,139.59 L484.57,140.00 L483.81,140.42 L483.04,140.83 L482.30,141.25 L481.62,141.66 L481.02,142.08 L480.51,142.49 L480.10,142.91 L479.78,143.32 L479.53,143.74 L479.35,144.15 L479.22,144.56 L479.14,144.98 L479.08,145.40 L479.04,145.81 L479.01,146.23 L479.00,146.64 L478.99,147.06 L478.99,147.47 L478.98,147.89 L478.98,148.30 L478.98,148.30 L478.98,147.89 L478.97,147.47 L478.97,147.06 L478.96,146.64 L478.95,146.23 L478.92,145.81 L478.88,145.40 L478.82,144.98 L478.74,144.56 L478.61,144.15 L478.43,143.74 L478.18,143.32 L477.86,142.91 L477.45,142.49 L476.94,142.08 L476.34,141.66 L475.66,141.25 L474.92,140.83 L474.15,140.42 L473.39,140.00 L472.68,139.59 L472.08,139.17 L471.62,138.75 L471.35,138.34 L471.28,137.93 L471.43,137.51 L471.77,137.09 L472.28,136.68 L472.93,136.27 L473.66,135.85 L474.43,135.44 L475.20,135.02 L475.92,134.61 L476.57,134.19 L477.13,133.78 L477.60,133.36 L477.98,132.95 L478.28,132.53 L478.50,132.12 L478.66,131.70 L478.77,131.28 L478.85,130.87 L478.90,130.46 L478.93,130.04 L478.95,129.62 L478.96,129.21 L478.97,128.80 L478.98,128.38 L478.98,127.97 L478.98,127.55 L478.98,127.14 L478.98,126.72 L478.98,126.31 L478.98,125.89 L478.98,125.48 L478.98,125.06 L478.98,124.65 L478.98,124.23 L478.98,123.82 L478.98,123.40Z" fill="#abc9ea" stroke="#6f6f6f" stroke-width="1" stroke-linejoin="round"/>
<line x1="478.98" y1="126.32" x2="478.98" y2="146.24" stroke="#6f6f6f" stroke-width="0.9" />
<rect x="477.78" y="136.12" width="2.40" height="3.75" fill="#6f6f6f" stroke="none" stroke-width="0" />
<circle cx="478.98" cy="138.00" r="0.75" fill="#fff"/>
<path d="M494.40,123.40 L494.40,123.83 L494.40,124.25 L494.40,124.68 L494.40,125.11 L494.40,125.53 L494.40,125.96 L494.40,126.39 L494.40,126.81 L494.40,127.24 L494.40,127.67 L494.40,128.09 L494.41,128.52 L494.41,128.95 L494.42,129.37 L494.44,129.80 L494.46,130.23 L494.50,130.65 L494.57,131.08 L494.66,131.51 L494.81,131.93 L495.00,132.36 L495.28,132.79 L495.63,133.21 L496.08,133.64 L496.63,134.07 L497.28,134.49 L498.00,134.92 L498.78,135.35 L499.58,135.77 L500.34,136.20 L501.02,136.63 L501.57,137.05 L501.94,137.48 L502.09,137.91 L502.03,138.33 L501.75,138.76 L501.28,139.19 L500.65,139.61 L499.92,140.04 L499.13,140.47 L498.34,140.89 L497.59,141.32 L496.90,141.75 L496.31,142.17 L495.82,142.60 L495.42,143.03 L495.11,143.45 L494.88,143.88 L494.72,144.31 L494.60,144.73 L494.53,145.16 L494.48,145.59 L494.45,146.01 L494.43,146.44 L494.41,146.87 L494.41,147.29 L494.40,147.72 L494.40,148.15 L494.40,148.57 L494.40,149.00 L494.40,149.00 L494.40,148.57 L494.40,148.15 L494.40,147.72 L494.39,147.29 L494.39,146.87 L494.37,146.44 L494.35,146.01 L494.32,145.59 L494.27,145.16 L494.20,144.73 L494.08,144.31 L493.92,143.88 L493.69,143.45 L493.38,143.03 L492.98,142.60 L492.49,142.17 L491.90,141.75 L491.21,141.32 L490.46,140.89 L489.67,140.47 L488.88,140.04 L488.15,139.61 L487.52,139.19 L487.05,138.76 L486.77,138.33 L486.71,137.91 L486.86,137.48 L487.23,137.05 L487.78,136.63 L488.46,136.20 L489.22,135.77 L490.02,135.35 L490.80,134.92 L491.52,134.49 L492.17,134.07 L492.72,133.64 L493.17,133.21 L493.52,132.79 L493.80,132.36 L493.99,131.93 L494.14,131.51 L494.23,131.08 L494.30,130.65 L494.34,130.23 L494.36,129.80 L494.38,129.37 L494.39,128.95 L494.39,128.52 L494.40,128.09 L494.40,127.67 L494.40,127.24 L494.40,126.81 L494.40,126.39 L494.40,125.96 L494.40,125.53 L494.40,125.11 L494.40,124.68 L494.40,124.25 L494.40,123.83 L494.40,123.40Z" fill="#98daa7" stroke="#6f6f6f" stroke-width="1" stroke-linejoin="round"/>
<line x1="494.40" y1="126.32" x2="494.40" y2="146.80" stroke="#6f6f6f" stroke-width="0.9" />
<rect x="493.20" y="136.12" width="2.40" height="3.75" fill="#6f6f6f" stroke="none" stroke-width="0" />
<circle cx="494.40" cy="138.00" r="0.75" fill="#fff"/>
<path d="M521.40,127.00 L521.40,127.36 L521.40,127.72 L521.40,128.08 L521.40,128.44 L521.40,128.80 L521.40,129.16 L521.41,129.52 L521.41,129.88 L521.42,130.24 L521.43,130.60 L521.45,130.96 L521.48,131.32 L521.52,131.68 L521.58,132.04 L521.66,132.40 L521.78,132.76 L521.93,133.12 L522.13,133.48 L522.39,133.84 L522.72,134.20 L523.11,134.56 L523.57,134.92 L524.10,135.28 L524.69,135.64 L525.33,136.00 L526.00,136.36 L526.66,136.72 L527.31,137.08 L527.89,137.44 L528.39,137.80 L528.77,138.16 L529.01,138.52 L529.10,138.88 L529.03,139.24 L528.80,139.60 L528.44,139.96 L527.95,140.32 L527.38,140.68 L526.74,141.04 L526.07,141.40 L525.40,141.76 L524.76,142.12 L524.16,142.48 L523.62,142.84 L523.15,143.20 L522.76,143.56 L522.43,143.92 L522.16,144.28 L521.95,144.64 L521.79,145.00 L521.67,145.36 L521.59,145.72 L521.52,146.08 L521.48,146.44 L521.45,146.80 L521.43,147.16 L521.42,147.52 L521.41,147.88 L521.41,148.24 L521.40,148.60 L521.40,148.60 L521.39,148.24 L521.39,147.88 L521.38,147.52 L521.37,147.16 L521.35,146.80 L521.32,146.44 L521.28,146.08 L521.21,145.72 L521.13,145.36 L521.01,145.00 L520.85,144.64 L520.64,144.28 L520.37,143.92 L520.04,143.56 L519.65,143.20 L519.18,142.84 L518.64,142.48 L518.04,142.12 L517.40,141.76 L516.73,141.40 L516.06,141.04 L515.42,140.68 L514.85,140.32 L514.36,139.96 L514.00,139.60 L513.77,139.24 L513.70,138.88 L513.79,138.52 L514.03,138.16 L514.41,137.80 L514.91,137.44 L515.49,137.08 L516.14,136.72 L516.80,136.36 L517.47,136.00 L518.11,135.64 L518.70,135.28 L519.23,134.92 L519.69,134.56 L520.08,134.20 L520.41,133.84 L520.67,133.48 L520.87,133.12 L521.02,132.76 L521.14,132.40 L521.22,132.04 L521.28,131.68 L521.32,131.32 L521.35,130.96 L521.37,130.60 L521.38,130.24 L521.39,129.88 L521.39,129.52 L521.40,129.16 L521.40,128.80 L521.40,128.44 L521.40,128.08 L521.40,127.72 L521.40,127.36 L521.40,127.00Z" fill="#efb792" stroke="#6f6f6f" stroke-width="1" stroke-linejoin="round"/>
<line x1="521.40" y1="129.38" x2="521.40" y2="146.66" stroke="#6f6f6f" stroke-width="0.9" />
<rect x="520.20" y="137.03" width="2.40" height="3.75" fill="#6f6f6f" stroke="none" stroke-width="0" />
<circle cx="521.40" cy="138.90" r="0.75" fill="#fff"/>
<path d="M536.82,128.30 L536.82,128.64 L536.82,128.98 L536.82,129.31 L536.83,129.65 L536.83,129.99 L536.84,130.33 L536.85,130.67 L536.87,131.01 L536.90,131.34 L536.94,131.68 L536.99,132.02 L537.07,132.36 L537.18,132.70 L537.31,133.04 L537.49,133.38 L537.72,133.71 L537.99,134.05 L538.33,134.39 L538.73,134.73 L539.20,135.07 L539.72,135.41 L540.29,135.74 L540.90,136.08 L541.53,136.42 L542.15,136.76 L542.76,137.10 L543.31,137.44 L543.78,137.77 L544.15,138.11 L544.40,138.45 L544.51,138.79 L544.49,139.13 L544.33,139.47 L544.03,139.80 L543.63,140.14 L543.13,140.48 L542.56,140.82 L541.94,141.16 L541.31,141.50 L540.69,141.83 L540.09,142.17 L539.53,142.51 L539.03,142.85 L538.59,143.19 L538.21,143.53 L537.89,143.86 L537.63,144.20 L537.42,144.54 L537.26,144.88 L537.14,145.22 L537.04,145.56 L536.97,145.89 L536.92,146.23 L536.89,146.57 L536.87,146.91 L536.85,147.25 L536.84,147.58 L536.83,147.92 L536.83,148.26 L536.82,148.60 L536.82,148.60 L536.81,148.26 L536.81,147.92 L536.80,147.58 L536.79,147.25 L536.77,146.91 L536.75,146.57 L536.72,146.23 L536.67,145.89 L536.60,145.56 L536.50,145.22 L536.38,144.88 L536.22,144.54 L536.01,144.20 L535.75,143.86 L535.43,143.53 L535.05,143.19 L534.61,142.85 L534.11,142.51 L533.55,142.17 L532.95,141.83 L532.33,141.50 L531.70,141.16 L531.08,140.82 L530.51,140.48 L530.01,140.14 L529.61,139.80 L529.31,139.47 L529.15,139.13 L529.13,138.79 L529.24,138.45 L529.49,138.11 L529.86,137.77 L530.33,137.44 L530.88,137.10 L531.49,136.76 L532.11,136.42 L532.74,136.08 L533.35,135.74 L533.92,135.41 L534.44,135.07 L534.91,134.73 L535.31,134.39 L535.65,134.05 L535.92,133.71 L536.15,133.38 L536.33,133.04 L536.46,132.70 L536.57,132.36 L536.65,132.02 L536.70,131.68 L536.74,131.34 L536.77,131.01 L536.79,130.67 L536.80,130.33 L536.81,129.99 L536.81,129.65 L536.82,129.31 L536.82,128.98 L536.82,128.64 L536.82,128.30Z" fill="#abc9ea" stroke="#6f6f6f" stroke-width="1" stroke-linejoin="round"/>
<line x1="536.82" y1="130.42" x2="536.82" y2="146.66" stroke="#6f6f6f" stroke-width="0.9" />
<rect x="535.62" y="137.03" width="2.40" height="3.75" fill="#6f6f6f" stroke="none" stroke-width="0" />
<circle cx="536.82" cy="138.90" r="0.75" fill="#fff"/>
<path d="M552.24,124.80 L552.24,125.20 L552.24,125.59 L552.24,125.99 L552.24,126.39 L552.24,126.78 L552.24,127.18 L552.24,127.58 L552.24,127.97 L552.24,128.37 L552.24,128.77 L552.24,129.16 L552.25,129.56 L552.25,129.96 L552.26,130.35 L552.28,130.75 L552.30,131.15 L552.34,131.54 L552.40,131.94 L552.49,132.34 L552.61,132.73 L552.78,133.13 L553.00,133.53 L553.30,133.92 L553.68,134.32 L554.14,134.72 L554.69,135.11 L555.31,135.51 L556.00,135.91 L556.73,136.30 L557.47,136.70 L558.18,137.10 L558.81,137.49 L559.34,137.89 L559.71,138.29 L559.91,138.68 L559.92,139.08 L559.74,139.48 L559.38,139.87 L558.87,140.27 L558.24,140.67 L557.54,141.06 L556.80,141.46 L556.07,141.86 L555.37,142.25 L554.74,142.65 L554.19,143.05 L553.72,143.44 L553.33,143.84 L553.03,144.24 L552.80,144.63 L552.62,145.03 L552.49,145.43 L552.41,145.82 L552.35,146.22 L552.31,146.62 L552.28,147.01 L552.26,147.41 L552.25,147.81 L552.25,148.20 L552.24,148.60 L552.24,148.60 L552.23,148.20 L552.23,147.81 L552.22,147.41 L552.20,147.01 L552.17,146.62 L552.13,146.22 L552.07,145.82 L551.99,145.43 L551.86,145.03 L551.68,144.63 L551.45,144.24 L551.15,143.84 L550.76,143.44 L550.29,143.05 L549.74,142.65 L549.11,142.25 L548.41,141.86 L547.68,141.46 L546.94,141.06 L546.24,140.67 L545.61,140.27 L545.10,139.87 L544.74,139.48 L544.56,139.08 L544.57,138.68 L544.77,138.29 L545.14,137.89 L545.67,137.49 L546.30,137.10 L547.01,136.70 L547.75,136.30 L548.48,135.91 L549.17,135.51 L549.79,135.11 L550.34,134.72 L550.80,134.32 L551.18,133.92 L551.48,133.53 L551.70,133.13 L551.87,132.73 L551.99,132.34 L552.08,131.94 L552.14,131.54 L552.18,131.15 L552.20,130.75 L552.22,130.35 L552.23,129.96 L552.23,129.56 L552.24,129.16 L552.24,128.77 L552.24,128.37 L552.24,127.97 L552.24,127.58 L552.24,127.18 L552.24,126.78 L552.24,126.39 L552.24,125.99 L552.24,125.59 L552.24,125.20 L552.24,124.80Z" fill="#98daa7" stroke="#6f6f6f" stroke-width="1" stroke-linejoin="round"/>
<line x1="552.24" y1="127.62" x2="552.24" y2="146.66" stroke="#6f6f6f" stroke-width="0.9" />
<rect x="551.04" y="137.03" width="2.40" height="3.75" fill="#6f6f6f" stroke="none" stroke-width="0" />
<circle cx="552.24" cy="138.90" r="0.75" fill="#fff"/>
<path d="M579.24,75.10 L579.24,75.81 L579.24,76.53 L579.25,77.24 L579.25,77.96 L579.26,78.67 L579.27,79.39 L579.29,80.10 L579.31,80.82 L579.35,81.53 L579.41,82.25 L579.48,82.96 L579.59,83.68 L579.74,84.39 L579.93,85.11 L580.17,85.82 L580.48,86.54 L580.85,87.25 L581.29,87.97 L581.80,88.69 L582.38,89.40 L583.00,90.11 L583.66,90.83 L584.32,91.55 L584.97,92.26 L585.57,92.97 L586.10,93.69 L586.51,94.41 L586.79,95.12 L586.93,95.83 L586.91,96.55 L586.73,97.27 L586.41,97.98 L585.97,98.69 L585.42,99.41 L584.81,100.12 L584.15,100.84 L583.49,101.55 L582.84,102.27 L582.22,102.98 L581.67,103.70 L581.17,104.41 L580.75,105.13 L580.39,105.84 L580.10,106.56 L579.87,107.28 L579.70,107.99 L579.56,108.70 L579.46,109.42 L579.39,110.13 L579.34,110.85 L579.30,111.56 L579.28,112.28 L579.27,113.00 L579.26,113.71 L579.25,114.43 L579.25,115.14 L579.24,115.85 L579.24,116.57 L579.24,117.28 L579.24,118.00 L579.24,118.00 L579.24,117.28 L579.24,116.57 L579.24,115.85 L579.23,115.14 L579.23,114.43 L579.22,113.71 L579.21,113.00 L579.20,112.28 L579.18,111.56 L579.14,110.85 L579.09,110.13 L579.02,109.42 L578.92,108.70 L578.78,107.99 L578.61,107.28 L578.38,106.56 L578.09,105.84 L577.73,105.13 L577.31,104.41 L576.81,103.70 L576.26,102.98 L575.64,102.27 L574.99,101.55 L574.33,100.84 L573.67,100.12 L573.06,99.41 L572.51,98.69 L572.07,97.98 L571.75,97.27 L571.57,96.55 L571.55,95.83 L571.69,95.12 L571.97,94.41 L572.38,93.69 L572.91,92.97 L573.51,92.26 L574.16,91.55 L574.82,90.83 L575.48,90.11 L576.10,89.40 L576.68,88.69 L577.19,87.97 L577.63,87.25 L578.00,86.54 L578.31,85.82 L578.55,85.11 L578.74,84.39 L578.89,83.68 L579.00,82.96 L579.07,82.25 L579.13,81.53 L579.17,80.82 L579.19,80.10 L579.21,79.39 L579.22,78.67 L579.23,77.96 L579.23,77.24 L579.24,76.53 L579.24,75.81 L579.24,75.10Z" fill="#efb792" stroke="#6f6f6f" stroke-width="1" stroke-linejoin="round"/>
<line x1="579.24" y1="79.30" x2="579.24" y2="113.62" stroke="#6f6f6f" stroke-width="0.9" />
<rect x="578.04" y="92.35" width="2.40" height="7.50" fill="#6f6f6f" stroke="none" stroke-width="0" />
<circle cx="579.24" cy="96.10" r="0.75" fill="#fff"/>
<path d="M594.66,76.00 L594.66,76.77 L594.67,77.55 L594.67,78.32 L594.68,79.09 L594.69,79.87 L594.71,80.64 L594.74,81.41 L594.79,82.19 L594.86,82.96 L594.96,83.73 L595.09,84.51 L595.28,85.28 L595.53,86.05 L595.85,86.83 L596.24,87.60 L596.72,88.37 L597.27,89.15 L597.90,89.92 L598.58,90.69 L599.30,91.47 L600.02,92.24 L600.70,93.01 L601.31,93.79 L601.80,94.56 L602.15,95.33 L602.34,96.11 L602.34,96.88 L602.16,97.65 L601.81,98.43 L601.32,99.20 L600.71,99.97 L600.03,100.75 L599.31,101.52 L598.60,102.29 L597.91,103.07 L597.28,103.84 L596.72,104.61 L596.25,105.39 L595.85,106.16 L595.53,106.93 L595.28,107.71 L595.10,108.48 L594.96,109.25 L594.86,110.03 L594.79,110.80 L594.74,111.57 L594.71,112.35 L594.69,113.12 L594.68,113.89 L594.67,114.67 L594.67,115.44 L594.66,116.21 L594.66,116.99 L594.66,117.76 L594.66,118.53 L594.66,119.31 L594.66,120.08 L594.66,120.85 L594.66,121.63 L594.66,122.40 L594.66,122.40 L594.66,121.63 L594.66,120.85 L594.66,120.08 L594.66,119.31 L594.66,118.53 L594.66,117.76 L594.66,116.99 L594.66,116.21 L594.65,115.44 L594.65,114.67 L594.64,113.89 L594.63,113.12 L594.61,112.35 L594.58,111.57 L594.53,110.80 L594.46,110.03 L594.36,109.25 L594.22,108.48 L594.04,107.71 L593.79,106.93 L593.47,106.16 L593.07,105.39 L592.60,104.61 L592.04,103.84 L591.41,103.07 L590.72,102.29 L590.01,101.52 L589.29,100.75 L588.61,99.97 L588.00,99.20 L587.51,98.43 L587.16,97.65 L586.98,96.88 L586.98,96.11 L587.17,95.33 L587.52,94.56 L588.01,93.79 L588.62,93.01 L589.30,92.24 L590.02,91.47 L590.74,90.69 L591.42,89.92 L592.05,89.15 L592.60,88.37 L593.08,87.60 L593.47,86.83 L593.79,86.05 L594.04,85.28 L594.23,84.51 L594.36,83.73 L594.46,82.96 L594.53,82.19 L594.58,81.41 L594.61,80.64 L594.63,79.87 L594.64,79.09 L594.65,78.32 L594.65,77.55 L594.66,76.77 L594.66,76.00Z" fill="#abc9ea" stroke="#6f6f6f" stroke-width="1" stroke-linejoin="round"/>
<line x1="594.66" y1="80.10" x2="594.66" y2="117.22" stroke="#6f6f6f" stroke-width="0.9" />
<rect x="593.46" y="92.75" width="2.40" height="7.50" fill="#6f6f6f" stroke="none" stroke-width="0" />
<circle cx="594.66" cy="96.50" r="0.75" fill="#fff"/>
<path d="M610.08,75.10 L610.08,75.86 L610.08,76.62 L610.09,77.38 L610.09,78.13 L610.10,78.89 L610.11,79.65 L610.12,80.41 L610.15,81.17 L610.19,81.92 L610.25,82.68 L610.33,83.44 L610.45,84.20 L610.62,84.96 L610.83,85.72 L611.11,86.47 L611.46,87.23 L611.89,87.99 L612.40,88.75 L612.98,89.51 L613.62,90.27 L614.31,91.02 L615.01,91.78 L615.71,92.54 L616.35,93.30 L616.91,94.06 L617.36,94.82 L617.65,95.57 L617.78,96.33 L617.73,97.09 L617.50,97.85 L617.13,98.61 L616.61,99.37 L616.00,100.12 L615.32,100.88 L614.62,101.64 L613.92,102.40 L613.25,103.16 L612.64,103.92 L612.10,104.67 L611.64,105.43 L611.26,106.19 L610.95,106.95 L610.70,107.71 L610.52,108.47 L610.38,109.22 L610.28,109.98 L610.21,110.74 L610.17,111.50 L610.13,112.26 L610.11,113.02 L610.10,113.77 L610.09,114.53 L610.09,115.29 L610.08,116.05 L610.08,116.81 L610.08,117.57 L610.08,118.32 L610.08,119.08 L610.08,119.84 L610.08,120.60 L610.08,120.60 L610.08,119.84 L610.08,119.08 L610.08,118.32 L610.08,117.57 L610.08,116.81 L610.08,116.05 L610.07,115.29 L610.07,114.53 L610.06,113.77 L610.05,113.02 L610.03,112.26 L609.99,111.50 L609.95,110.74 L609.88,109.98 L609.78,109.22 L609.64,108.47 L609.46,107.71 L609.21,106.95 L608.90,106.19 L608.52,105.43 L608.06,104.67 L607.52,103.92 L606.91,103.16 L606.24,102.40 L605.54,101.64 L604.84,100.88 L604.16,100.12 L603.55,99.37 L603.03,98.61 L602.66,97.85 L602.43,97.09 L602.38,96.33 L602.51,95.57 L602.80,94.82 L603.25,94.06 L603.81,93.30 L604.45,92.54 L605.15,91.78 L605.85,91.02 L606.54,90.27 L607.18,89.51 L607.76,88.75 L608.27,87.99 L608.70,87.23 L609.05,86.47 L609.33,85.72 L609.54,84.96 L609.71,84.20 L609.83,83.44 L609.91,82.68 L609.97,81.92 L610.01,81.17 L610.04,80.41 L610.05,79.65 L610.06,78.89 L610.07,78.13 L610.07,77.38 L610.08,76.62 L610.08,75.86 L610.08,75.10Z" fill="#98daa7" stroke="#6f6f6f" stroke-width="1" stroke-linejoin="round"/>
<line x1="610.08" y1="79.38" x2="610.08" y2="115.78" stroke="#6f6f6f" stroke-width="0.9" />
<rect x="608.88" y="92.75" width="2.40" height="7.50" fill="#6f6f6f" stroke="none" stroke-width="0" />
<circle cx="610.08" cy="96.50" r="0.75" fill="#fff"/>
<path d="M637.08,147.00 L637.08,147.12 L637.08,147.23 L637.08,147.35 L637.08,147.47 L637.08,147.58 L637.08,147.70 L637.08,147.82 L637.08,147.93 L637.08,148.05 L637.08,148.17 L637.08,148.28 L637.08,148.40 L637.08,148.52 L637.08,148.63 L637.09,148.75 L637.09,148.87 L637.10,148.98 L637.11,149.10 L637.12,149.22 L637.15,149.33 L637.18,149.45 L637.24,149.57 L637.31,149.68 L637.42,149.80 L637.56,149.92 L637.75,150.03 L638.00,150.15 L638.31,150.27 L638.69,150.38 L639.14,150.50 L639.66,150.62 L640.25,150.73 L640.88,150.85 L641.56,150.97 L642.23,151.08 L642.89,151.20 L643.50,151.32 L644.01,151.43 L644.41,151.55 L644.67,151.67 L644.78,151.78 L644.72,151.90 L644.50,152.02 L644.14,152.13 L643.65,152.25 L643.07,152.37 L642.43,152.48 L641.75,152.60 L641.07,152.72 L640.42,152.83 L639.82,152.95 L639.28,153.07 L638.81,153.18 L638.41,153.30 L638.08,153.42 L637.82,153.53 L637.61,153.65 L637.46,153.77 L637.34,153.88 L637.26,154.00 L636.90,154.00 L636.82,153.88 L636.70,153.77 L636.55,153.65 L636.34,153.53 L636.08,153.42 L635.75,153.30 L635.35,153.18 L634.88,153.07 L634.34,152.95 L633.74,152.83 L633.09,152.72 L632.41,152.60 L631.73,152.48 L631.09,152.37 L630.51,152.25 L630.02,152.13 L629.66,152.02 L629.44,151.90 L629.38,151.78 L629.49,151.67 L629.75,151.55 L630.15,151.43 L630.66,151.32 L631.27,151.20 L631.93,151.08 L632.60,150.97 L633.28,150.85 L633.91,150.73 L634.50,150.62 L635.02,150.50 L635.47,150.38 L635.85,150.27 L636.16,150.15 L636.41,150.03 L636.60,149.92 L636.74,149.80 L636.85,149.68 L636.92,149.57 L636.98,149.45 L637.01,149.33 L637.04,149.22 L637.05,149.10 L637.06,148.98 L637.07,148.87 L637.07,148.75 L637.08,148.63 L637.08,148.52 L637.08,148.40 L637.08,148.28 L637.08,148.17 L637.08,148.05 L637.08,147.93 L637.08,147.82 L637.08,147.70 L637.08,147.58 L637.08,147.47 L637.08,147.35 L637.08,147.23 L637.08,147.12 L637.08,147.00Z" fill="#efb792" stroke="#6f6f6f" stroke-width="1" stroke-linejoin="round"/>
<line x1="637.08" y1="147.96" x2="637.08" y2="153.56" stroke="#6f6f6f" stroke-width="0.9" />
<rect x="635.88" y="151.20" width="2.40" height="1.20" fill="#6f6f6f" stroke="none" stroke-width="0" />
<circle cx="637.08" cy="151.80" r="0.75" fill="#fff"/>
<path d="M652.50,147.00 L652.50,147.12 L652.50,147.23 L652.50,147.35 L652.50,147.47 L652.50,147.58 L652.50,147.70 L652.50,147.82 L652.50,147.93 L652.50,148.05 L652.50,148.17 L652.50,148.28 L652.50,148.40 L652.50,148.52 L652.50,148.63 L652.51,148.75 L652.51,148.87 L652.52,148.98 L652.53,149.10 L652.54,149.22 L652.57,149.33 L652.60,149.45 L652.66,149.57 L652.73,149.68 L652.84,149.80 L652.98,149.92 L653.17,150.03 L653.42,150.15 L653.73,150.27 L654.11,150.38 L654.56,150.50 L655.08,150.62 L655.67,150.73 L656.30,150.85 L656.98,150.97 L657.65,151.08 L658.31,151.20 L658.92,151.32 L659.43,151.43 L659.83,151.55 L660.09,151.67 L660.20,151.78 L660.14,151.90 L659.92,152.02 L659.56,152.13 L659.07,152.25 L658.49,152.37 L657.85,152.48 L657.17,152.60 L656.49,152.72 L655.84,152.83 L655.24,152.95 L654.70,153.07 L654.23,153.18 L653.83,153.30 L653.50,153.42 L653.24,153.53 L653.03,153.65 L652.88,153.77 L652.76,153.88 L652.68,154.00 L652.32,154.00 L652.24,153.88 L652.12,153.77 L651.97,153.65 L651.76,153.53 L651.50,153.42 L651.17,153.30 L650.77,153.18 L650.30,153.07 L649.76,152.95 L649.16,152.83 L648.51,152.72 L647.83,152.60 L647.15,152.48 L646.51,152.37 L645.93,152.25 L645.44,152.13 L645.08,152.02 L644.86,151.90 L644.80,151.78 L644.91,151.67 L645.17,151.55 L645.57,151.43 L646.08,151.32 L646.69,151.20 L647.35,151.08 L648.02,150.97 L648.70,150.85 L649.33,150.73 L649.92,150.62 L650.44,150.50 L650.89,150.38 L651.27,150.27 L651.58,150.15 L651.83,150.03 L652.02,149.92 L652.16,149.80 L652.27,149.68 L652.34,149.57 L652.40,149.45 L652.43,149.33 L652.46,149.22 L652.47,149.10 L652.48,148.98 L652.49,148.87 L652.49,148.75 L652.50,148.63 L652.50,148.52 L652.50,148.40 L652.50,148.28 L652.50,148.17 L652.50,148.05 L652.50,147.93 L652.50,147.82 L652.50,147.70 L652.50,147.58 L652.50,147.47 L652.50,147.35 L652.50,147.23 L652.50,147.12 L652.50,147.00Z" fill="#abc9ea" stroke="#6f6f6f" stroke-width="1" stroke-linejoin="round"/>
<line x1="652.50" y1="147.96" x2="652.50" y2="153.56" stroke="#6f6f6f" stroke-width="0.9" />
<rect x="651.30" y="151.20" width="2.40" height="1.20" fill="#6f6f6f" stroke="none" stroke-width="0" />
<circle cx="652.50" cy="151.80" r="0.75" fill="#fff"/>
<path d="M667.92,147.00 L667.92,147.12 L667.92,147.23 L667.92,147.35 L667.92,147.47 L667.92,147.58 L667.92,147.70 L667.92,147.82 L667.92,147.93 L667.92,148.05 L667.92,148.17 L667.92,148.28 L667.92,148.40 L667.92,148.52 L667.92,148.63 L667.93,148.75 L667.93,148.87 L667.94,148.98 L667.95,149.10 L667.96,149.22 L667.99,149.33 L668.02,149.45 L668.08,149.57 L668.15,149.68 L668.26,149.80 L668.40,149.92 L668.59,150.03 L668.84,150.15 L669.15,150.27 L669.53,150.38 L669.98,150.50 L670.50,150.62 L671.09,150.73 L671.72,150.85 L672.40,150.97 L673.07,151.08 L673.73,151.20 L674.34,151.32 L674.85,151.43 L675.25,151.55 L675.51,151.67 L675.62,151.78 L675.56,151.90 L675.34,152.02 L674.98,152.13 L674.49,152.25 L673.91,152.37 L673.27,152.48 L672.59,152.60 L671.91,152.72 L671.26,152.83 L670.66,152.95 L670.12,153.07 L669.65,153.18 L669.25,153.30 L668.92,153.42 L668.66,153.53 L668.45,153.65 L668.30,153.77 L668.18,153.88 L668.10,154.00 L667.74,154.00 L667.66,153.88 L667.54,153.77 L667.39,153.65 L667.18,153.53 L666.92,153.42 L666.59,153.30 L666.19,153.18 L665.72,153.07 L665.18,152.95 L664.58,152.83 L663.93,152.72 L663.25,152.60 L662.57,152.48 L661.93,152.37 L661.35,152.25 L660.86,152.13 L660.50,152.02 L660.28,151.90 L660.22,151.78 L660.33,151.67 L660.59,151.55 L660.99,151.43 L661.50,151.32 L662.11,151.20 L662.77,151.08 L663.44,150.97 L664.12,150.85 L664.75,150.73 L665.34,150.62 L665.86,150.50 L666.31,150.38 L666.69,150.27 L667.00,150.15 L667.25,150.03 L667.44,149.92 L667.58,149.80 L667.69,149.68 L667.76,149.57 L667.82,149.45 L667.85,149.33 L667.88,149.22 L667.89,149.10 L667.90,148.98 L667.91,148.87 L667.91,148.75 L667.92,148.63 L667.92,148.52 L667.92,148.40 L667.92,148.28 L667.92,148.17 L667.92,148.05 L667.92,147.93 L667.92,147.82 L667.92,147.70 L667.92,147.58 L667.92,147.47 L667.92,147.35 L667.92,147.23 L667.92,147.12 L667.92,147.00Z" fill="#98daa7" stroke="#6f6f6f" stroke-width="1" stroke-linejoin="round"/>
<line x1="667.92" y1="147.96" x2="667.92" y2="153.56" stroke="#6f6f6f" stroke-width="0.9" />
<rect x="666.72" y="151.20" width="2.40" height="1.20" fill="#6f6f6f" stroke="none" stroke-width="0" />
<circle cx="667.92" cy="151.80" r="0.75" fill="#fff"/>
<rect x="45.50" y="0.50" width="636.00" height="158.00" fill="none" stroke="#767676" stroke-width="1"/>
<rect x="49.6" y="4.5" width="67" height="45" rx="2" fill="#fff" fill-opacity="0.8" stroke="#dcdcdc" stroke-width="0.8"/>
<rect x="53.40" y="9.30" width="19.60" height="6.50" fill="#efb792" stroke="#6f6f6f" stroke-width="0.6" />
<text x="80.60" y="15.90" font-size="9.5" text-anchor="start" font-weight="normal" fill="#000" >Original</text>
<rect x="53.40" y="23.20" width="19.60" height="6.50" fill="#abc9ea" stroke="#6f6f6f" stroke-width="0.6" />
<text x="80.60" y="29.80" font-size="9.5" text-anchor="start" font-weight="normal" fill="#000" >Outside</text>
<rect x="53.40" y="37.10" width="19.60" height="6.50" fill="#98daa7" stroke="#6f6f6f" stroke-width="0.6" />
<text x="80.60" y="43.70" font-size="9.5" text-anchor="start" font-weight="normal" fill="#000" >Inside</text>
<line x1="74.10" y1="158.50" x2="74.10" y2="162.00" stroke="#767676" stroke-width="0.9" />
<text x="74.10" y="172.60" font-size="9.4" text-anchor="middle" font-weight="normal" fill="#000" >1</text>
<line x1="131.94" y1="158.50" x2="131.94" y2="162.00" stroke="#767676" stroke-width="0.9" />
<text x="131.94" y="172.60" font-size="9.4" text-anchor="middle" font-weight="normal" fill="#000" >2</text>
<line x1="189.78" y1="158.50" x2="189.78" y2="162.00" stroke="#767676" stroke-width="0.9" />
<text x="189.78" y="172.60" font-size="9.4" text-anchor="middle" font-weight="normal" fill="#000" >3</text>
<line x1="247.62" y1="158.50" x2="247.62" y2="162.00" stroke="#767676" stroke-width="0.9" />
<text x="247.62" y="172.60" font-size="9.4" text-anchor="middle" font-weight="normal" fill="#000" >4</text>
<line x1="305.46" y1="158.50" x2="305.46" y2="162.00" stroke="#767676" stroke-width="0.9" />
<text x="305.46" y="172.60" font-size="9.4" text-anchor="middle" font-weight="normal" fill="#000" >5</text>
<line x1="363.30" y1="158.50" x2="363.30" y2="162.00" stroke="#767676" stroke-width="0.9" />
<text x="363.30" y="172.60" font-size="9.4" text-anchor="middle" font-weight="normal" fill="#000" >6</text>
<line x1="421.14" y1="158.50" x2="421.14" y2="162.00" stroke="#767676" stroke-width="0.9" />
<text x="421.14" y="172.60" font-size="9.4" text-anchor="middle" font-weight="normal" fill="#000" >7</text>
<line x1="478.98" y1="158.50" x2="478.98" y2="162.00" stroke="#767676" stroke-width="0.9" />
<text x="478.98" y="172.60" font-size="9.4" text-anchor="middle" font-weight="normal" fill="#000" >8</text>
<line x1="536.82" y1="158.50" x2="536.82" y2="162.00" stroke="#767676" stroke-width="0.9" />
<text x="536.82" y="172.60" font-size="9.4" text-anchor="middle" font-weight="normal" fill="#000" >9</text>
<line x1="594.66" y1="158.50" x2="594.66" y2="162.00" stroke="#767676" stroke-width="0.9" />
<text x="594.66" y="172.60" font-size="9.4" text-anchor="middle" font-weight="normal" fill="#000" >1</text>
<line x1="652.50" y1="158.50" x2="652.50" y2="162.00" stroke="#767676" stroke-width="0.9" />
<text x="652.50" y="172.60" font-size="9.4" text-anchor="middle" font-weight="normal" fill="#000" >1</text>
<path d="M50.40,177.50H66.03V193.13H50.40ZM66.03,177.50H81.67V193.13H66.03ZM81.67,177.50H97.30V193.13H81.67ZM50.40,193.13H66.03V208.77H50.40ZM50.40,208.77H66.03V224.40H50.40ZM81.67,208.77H97.30V224.40H81.67Z" fill="#000"/>
<rect x="50.40" y="177.50" width="46.90" height="46.90" fill="none" stroke="#ff0000" stroke-width="1.1" />
<path d="M108.33,177.50H123.96V193.13H108.33ZM108.33,193.13H123.96V208.77H108.33ZM139.60,193.13H155.23V208.77H139.60ZM108.33,208.77H123.96V224.40H108.33Z" fill="#000"/>
<rect x="108.33" y="177.50" width="46.90" height="46.90" fill="none" stroke="#ff0000" stroke-width="1.1" />
<path d="M166.26,193.13H181.89V208.77H166.26ZM181.89,193.13H197.53V208.77H181.89ZM197.53,193.13H213.16V208.77H197.53ZM181.89,208.77H197.53V224.40H181.89Z" fill="#000"/>
<rect x="166.26" y="177.50" width="46.90" height="46.90" fill="none" stroke="#ff0000" stroke-width="1.1" />
<path d="M224.19,177.50H239.82V193.13H224.19ZM239.82,177.50H255.46V193.13H239.82ZM255.46,177.50H271.09V193.13H255.46ZM224.19,208.77H239.82V224.40H224.19ZM239.82,208.77H255.46V224.40H239.82ZM255.46,208.77H271.09V224.40H255.46Z" fill="#000"/>
<rect x="224.19" y="177.50" width="46.90" height="46.90" fill="none" stroke="#ff0000" stroke-width="1.1" />
<path d="M297.75,193.13H313.39V208.77H297.75ZM313.39,193.13H329.02V208.77H313.39Z" fill="#000"/>
<rect x="282.12" y="177.50" width="46.90" height="46.90" fill="none" stroke="#ff0000" stroke-width="1.1" />
<path d="M340.05,193.13H355.68V208.77H340.05ZM355.68,193.13H371.32V208.77H355.68ZM371.32,193.13H386.95V208.77H371.32Z" fill="#000"/>
<rect x="340.05" y="177.50" width="46.90" height="46.90" fill="none" stroke="#ff0000" stroke-width="1.1" />
<path d="M397.98,193.13H413.61V208.77H397.98ZM413.61,193.13H429.25V208.77H413.61ZM429.25,193.13H444.88V208.77H429.25ZM429.25,208.77H444.88V224.40H429.25Z" fill="#000"/>
<rect x="397.98" y="177.50" width="46.90" height="46.90" fill="none" stroke="#ff0000" stroke-width="1.1" />
<path d="M455.91,177.50H471.54V193.13H455.91ZM471.54,177.50H487.18V193.13H471.54ZM487.18,177.50H502.81V193.13H487.18ZM471.54,193.13H487.18V208.77H471.54ZM471.54,208.77H487.18V224.40H471.54Z" fill="#000"/>
<rect x="455.91" y="177.50" width="46.90" height="46.90" fill="none" stroke="#ff0000" stroke-width="1.1" />
<path d="M513.84,193.13H529.47V208.77H513.84ZM529.47,193.13H545.11V208.77H529.47ZM529.47,208.77H545.11V224.40H529.47Z" fill="#000"/>
<rect x="513.84" y="177.50" width="46.90" height="46.90" fill="none" stroke="#ff0000" stroke-width="1.1" />
<path d="M571.77,177.50H587.40V193.13H571.77ZM587.40,177.50H603.04V193.13H587.40ZM603.04,177.50H618.67V193.13H603.04ZM587.40,208.77H603.04V224.40H587.40ZM603.04,208.77H618.67V224.40H603.04Z" fill="#000"/>
<rect x="571.77" y="177.50" width="46.90" height="46.90" fill="none" stroke="#ff0000" stroke-width="1.1" />
<path d="M645.33,177.50H660.97V193.13H645.33ZM629.70,193.13H645.33V208.77H629.70ZM645.33,193.13H660.97V208.77H645.33ZM660.97,193.13H676.60V208.77H660.97ZM645.33,208.77H660.97V224.40H645.33Z" fill="#000"/>
<rect x="629.70" y="177.50" width="46.90" height="46.90" fill="none" stroke="#ff0000" stroke-width="1.1" />
<text x="363.30" y="236.80" font-size="9.5" text-anchor="middle" font-weight="normal" fill="#000" >Templates of 3×3 size</text>
<text x="-1.30" y="258.70" font-size="10.8" text-anchor="start" font-weight="bold" fill="#000" >b</text>
<line x1="52.50" y1="326.50" x2="253.00" y2="326.50" stroke="#555" stroke-width="1.0" stroke-dasharray="1.1,2.85"/>
<polyline points="60.50,326.50 80.90,326.50 101.30,326.50 121.70,326.50 142.10,326.50 162.50,326.50 182.90,326.50 203.30,326.50 223.70,325.64 244.10,270.34" fill="none" stroke="#ff7f0e" stroke-width="1.4"/>
<circle cx="60.50" cy="326.50" r="3.1" fill="#ff7f0e"/>
<circle cx="80.90" cy="326.50" r="3.1" fill="#ff7f0e"/>
<circle cx="101.30" cy="326.50" r="3.1" fill="#ff7f0e"/>
<circle cx="121.70" cy="326.50" r="3.1" fill="#ff7f0e"/>
<circle cx="142.10" cy="326.50" r="3.1" fill="#ff7f0e"/>
<circle cx="162.50" cy="326.50" r="3.1" fill="#ff7f0e"/>
<circle cx="182.90" cy="326.50" r="3.1" fill="#ff7f0e"/>
<circle cx="203.30" cy="326.50" r="3.1" fill="#ff7f0e"/>
<circle cx="223.70" cy="325.64" r="3.1" fill="#ff7f0e"/>
<circle cx="244.10" cy="270.34" r="3.1" fill="#ff7f0e"/>
<rect x="51.50" y="263.50" width="202.00" height="69.00" fill="none" stroke="#262626" stroke-width="1.0"/>
<line x1="48.00" y1="326.50" x2="51.50" y2="326.50" stroke="#333" stroke-width="0.8" />
<line x1="48.00" y1="304.90" x2="51.50" y2="304.90" stroke="#333" stroke-width="0.8" />
<line x1="48.00" y1="283.30" x2="51.50" y2="283.30" stroke="#333" stroke-width="0.8" />
<line x1="80.90" y1="332.50" x2="80.90" y2="336.00" stroke="#333" stroke-width="0.8" />
<text x="80.90" y="346.80" font-size="9.4" text-anchor="middle" font-weight="normal" fill="#000" >2</text>
<line x1="121.70" y1="332.50" x2="121.70" y2="336.00" stroke="#333" stroke-width="0.8" />
<text x="121.70" y="346.80" font-size="9.4" text-anchor="middle" font-weight="normal" fill="#000" >4</text>
<line x1="162.50" y1="332.50" x2="162.50" y2="336.00" stroke="#333" stroke-width="0.8" />
<text x="162.50" y="346.80" font-size="9.4" text-anchor="middle" font-weight="normal" fill="#000" >6</text>
<line x1="203.30" y1="332.50" x2="203.30" y2="336.00" stroke="#333" stroke-width="0.8" />
<text x="203.30" y="346.80" font-size="9.4" text-anchor="middle" font-weight="normal" fill="#000" >8</text>
<line x1="244.10" y1="332.50" x2="244.10" y2="336.00" stroke="#333" stroke-width="0.8" />
<text x="244.10" y="346.80" font-size="9.4" text-anchor="middle" font-weight="normal" fill="#000" >10</text>
<text x="152.50" y="258.00" font-size="9.5" text-anchor="middle" font-weight="normal" fill="#000" >Original</text>
<text x="152.50" y="358.30" font-size="9.5" text-anchor="middle" font-weight="normal" fill="#000" >Size</text>
<line x1="266.50" y1="326.50" x2="467.00" y2="326.50" stroke="#555" stroke-width="1.0" stroke-dasharray="1.1,2.85"/>
<polyline points="274.50,326.50 294.90,326.50 315.30,326.50 335.70,326.50 356.10,326.50 376.50,326.50 396.90,326.50 417.30,326.50 437.70,326.50 458.10,289.35" fill="none" stroke="#1f77b4" stroke-width="1.4"/>
<circle cx="274.50" cy="326.50" r="3.1" fill="#1f77b4"/>
<circle cx="294.90" cy="326.50" r="3.1" fill="#1f77b4"/>
<circle cx="315.30" cy="326.50" r="3.1" fill="#1f77b4"/>
<circle cx="335.70" cy="326.50" r="3.1" fill="#1f77b4"/>
<circle cx="356.10" cy="326.50" r="3.1" fill="#1f77b4"/>
<circle cx="376.50" cy="326.50" r="3.1" fill="#1f77b4"/>
<circle cx="396.90" cy="326.50" r="3.1" fill="#1f77b4"/>
<circle cx="417.30" cy="326.50" r="3.1" fill="#1f77b4"/>
<circle cx="437.70" cy="326.50" r="3.1" fill="#1f77b4"/>
<circle cx="458.10" cy="289.35" r="3.1" fill="#1f77b4"/>
<rect x="265.50" y="263.50" width="202.00" height="69.00" fill="none" stroke="#262626" stroke-width="1.0"/>
<line x1="262.00" y1="326.50" x2="265.50" y2="326.50" stroke="#333" stroke-width="0.8" />
<line x1="262.00" y1="304.90" x2="265.50" y2="304.90" stroke="#333" stroke-width="0.8" />
<line x1="262.00" y1="283.30" x2="265.50" y2="283.30" stroke="#333" stroke-width="0.8" />
<line x1="294.90" y1="332.50" x2="294.90" y2="336.00" stroke="#333" stroke-width="0.8" />
<text x="294.90" y="346.80" font-size="9.4" text-anchor="middle" font-weight="normal" fill="#000" >2</text>
<line x1="335.70" y1="332.50" x2="335.70" y2="336.00" stroke="#333" stroke-width="0.8" />
<text x="335.70" y="346.80" font-size="9.4" text-anchor="middle" font-weight="normal" fill="#000" >4</text>
<line x1="376.50" y1="332.50" x2="376.50" y2="336.00" stroke="#333" stroke-width="0.8" />
<text x="376.50" y="346.80" font-size="9.4" text-anchor="middle" font-weight="normal" fill="#000" >6</text>
<line x1="417.30" y1="332.50" x2="417.30" y2="336.00" stroke="#333" stroke-width="0.8" />
<text x="417.30" y="346.80" font-size="9.4" text-anchor="middle" font-weight="normal" fill="#000" >8</text>
<line x1="458.10" y1="332.50" x2="458.10" y2="336.00" stroke="#333" stroke-width="0.8" />
<text x="458.10" y="346.80" font-size="9.4" text-anchor="middle" font-weight="normal" fill="#000" >10</text>
<text x="366.50" y="258.00" font-size="9.5" text-anchor="middle" font-weight="normal" fill="#000" >Outside</text>
<text x="366.50" y="358.30" font-size="9.5" text-anchor="middle" font-weight="normal" fill="#000" >Size</text>
<line x1="481.50" y1="326.50" x2="681.00" y2="326.50" stroke="#555" stroke-width="1.0" stroke-dasharray="1.1,2.85"/>
<polyline points="489.50,326.50 509.90,326.50 530.30,326.50 550.70,326.50 571.10,326.50 591.50,326.50 611.90,326.50 632.30,326.50 652.70,326.50 673.10,284.60" fill="none" stroke="#2ca02c" stroke-width="1.4"/>
<circle cx="489.50" cy="326.50" r="3.1" fill="#2ca02c"/>
<circle cx="509.90" cy="326.50" r="3.1" fill="#2ca02c"/>
<circle cx="530.30" cy="326.50" r="3.1" fill="#2ca02c"/>
<circle cx="550.70" cy="326.50" r="3.1" fill="#2ca02c"/>
<circle cx="571.10" cy="326.50" r="3.1" fill="#2ca02c"/>
<circle cx="591.50" cy="326.50" r="3.1" fill="#2ca02c"/>
<circle cx="611.90" cy="326.50" r="3.1" fill="#2ca02c"/>
<circle cx="632.30" cy="326.50" r="3.1" fill="#2ca02c"/>
<circle cx="652.70" cy="326.50" r="3.1" fill="#2ca02c"/>
<circle cx="673.10" cy="284.60" r="3.1" fill="#2ca02c"/>
<rect x="480.50" y="263.50" width="201.00" height="69.00" fill="none" stroke="#262626" stroke-width="1.0"/>
<line x1="477.00" y1="326.50" x2="480.50" y2="326.50" stroke="#333" stroke-width="0.8" />
<line x1="477.00" y1="304.90" x2="480.50" y2="304.90" stroke="#333" stroke-width="0.8" />
<line x1="477.00" y1="283.30" x2="480.50" y2="283.30" stroke="#333" stroke-width="0.8" />
<line x1="509.90" y1="332.50" x2="509.90" y2="336.00" stroke="#333" stroke-width="0.8" />
<text x="509.90" y="346.80" font-size="9.4" text-anchor="middle" font-weight="normal" fill="#000" >2</text>
<line x1="550.70" y1="332.50" x2="550.70" y2="336.00" stroke="#333" stroke-width="0.8" />
<text x="550.70" y="346.80" font-size="9.4" text-anchor="middle" font-weight="normal" fill="#000" >4</text>
<line x1="591.50" y1="332.50" x2="591.50" y2="336.00" stroke="#333" stroke-width="0.8" />
<text x="591.50" y="346.80" font-size="9.4" text-anchor="middle" font-weight="normal" fill="#000" >6</text>
<line x1="632.30" y1="332.50" x2="632.30" y2="336.00" stroke="#333" stroke-width="0.8" />
<text x="632.30" y="346.80" font-size="9.4" text-anchor="middle" font-weight="normal" fill="#000" >8</text>
<line x1="673.10" y1="332.50" x2="673.10" y2="336.00" stroke="#333" stroke-width="0.8" />
<text x="673.10" y="346.80" font-size="9.4" text-anchor="middle" font-weight="normal" fill="#000" >10</text>
<text x="581.00" y="258.00" font-size="9.5" text-anchor="middle" font-weight="normal" fill="#000" >Inside</text>
<text x="581.00" y="358.30" font-size="9.5" text-anchor="middle" font-weight="normal" fill="#000" >Size</text>
<text x="44.20" y="330.00" font-size="9.4" text-anchor="end" font-weight="normal" fill="#000" >0.000</text>
<text x="44.20" y="308.40" font-size="9.4" text-anchor="end" font-weight="normal" fill="#000" >0.005</text>
<text x="44.20" y="286.80" font-size="9.4" text-anchor="end" font-weight="normal" fill="#000" >0.010</text>
<text x="0.00" y="0.00" font-size="9.5" text-anchor="middle" font-weight="normal" fill="#000" transform="translate(14.1,298.2) rotate(-90)">Proportion</text>
<text x="-1.30" y="379.90" font-size="10.8" text-anchor="start" font-weight="bold" fill="#000" >c</text>
<rect x="48.85" y="400.80" width="36.50" height="64.70" fill="#d3d3d3" stroke="none" stroke-width="0" />
<rect x="94.57" y="392.90" width="36.50" height="72.60" fill="#d3d3d3" stroke="none" stroke-width="0" />
<rect x="140.29" y="395.20" width="36.50" height="70.30" fill="#d3d3d3" stroke="none" stroke-width="0" />
<rect x="186.01" y="395.00" width="36.50" height="70.50" fill="#d3d3d3" stroke="none" stroke-width="0" />
<rect x="231.73" y="404.30" width="36.50" height="61.20" fill="#d3d3d3" stroke="none" stroke-width="0" />
<rect x="277.45" y="407.60" width="36.50" height="57.90" fill="#d3d3d3" stroke="none" stroke-width="0" />
<rect x="323.17" y="397.80" width="36.50" height="67.70" fill="#d3d3d3" stroke="none" stroke-width="0" />
<rect x="368.89" y="401.50" width="36.50" height="64.00" fill="#d3d3d3" stroke="none" stroke-width="0" />
<rect x="414.61" y="399.00" width="36.50" height="66.50" fill="#d3d3d3" stroke="none" stroke-width="0" />
<rect x="460.33" y="399.20" width="36.50" height="66.30" fill="#d3d3d3" stroke="none" stroke-width="0" />
<rect x="506.05" y="409.70" width="36.50" height="55.80" fill="#d3d3d3" stroke="none" stroke-width="0" />
<rect x="551.77" y="402.00" width="36.50" height="63.50" fill="#d3d3d3" stroke="none" stroke-width="0" />
<rect x="597.49" y="401.10" width="36.50" height="64.40" fill="#d3d3d3" stroke="none" stroke-width="0" />
<rect x="643.21" y="398.50" width="36.50" height="67.00" fill="#d3d3d3" stroke="none" stroke-width="0" />
<line x1="67.10" y1="397.30" x2="67.10" y2="404.30" stroke="#222" stroke-width="1.0" />
<line x1="62.10" y1="397.30" x2="72.10" y2="397.30" stroke="#222" stroke-width="1.0" />
<line x1="62.10" y1="404.30" x2="72.10" y2="404.30" stroke="#222" stroke-width="1.0" />
<line x1="112.82" y1="388.00" x2="112.82" y2="398.30" stroke="#222" stroke-width="1.0" />
<line x1="107.82" y1="388.00" x2="117.82" y2="388.00" stroke="#222" stroke-width="1.0" />
<line x1="107.82" y1="398.30" x2="117.82" y2="398.30" stroke="#222" stroke-width="1.0" />
<line x1="158.54" y1="391.50" x2="158.54" y2="399.40" stroke="#222" stroke-width="1.0" />
<line x1="153.54" y1="391.50" x2="163.54" y2="391.50" stroke="#222" stroke-width="1.0" />
<line x1="153.54" y1="399.40" x2="163.54" y2="399.40" stroke="#222" stroke-width="1.0" />
<line x1="204.26" y1="390.60" x2="204.26" y2="399.40" stroke="#222" stroke-width="1.0" />
<line x1="199.26" y1="390.60" x2="209.26" y2="390.60" stroke="#222" stroke-width="1.0" />
<line x1="199.26" y1="399.40" x2="209.26" y2="399.40" stroke="#222" stroke-width="1.0" />
<line x1="249.98" y1="400.60" x2="249.98" y2="407.40" stroke="#222" stroke-width="1.0" />
<line x1="244.98" y1="400.60" x2="254.98" y2="400.60" stroke="#222" stroke-width="1.0" />
<line x1="244.98" y1="407.40" x2="254.98" y2="407.40" stroke="#222" stroke-width="1.0" />
<line x1="295.70" y1="402.50" x2="295.70" y2="412.30" stroke="#222" stroke-width="1.0" />
<line x1="290.70" y1="402.50" x2="300.70" y2="402.50" stroke="#222" stroke-width="1.0" />
<line x1="290.70" y1="412.30" x2="300.70" y2="412.30" stroke="#222" stroke-width="1.0" />
<line x1="341.42" y1="393.10" x2="341.42" y2="402.00" stroke="#222" stroke-width="1.0" />
<line x1="336.42" y1="393.10" x2="346.42" y2="393.10" stroke="#222" stroke-width="1.0" />
<line x1="336.42" y1="402.00" x2="346.42" y2="402.00" stroke="#222" stroke-width="1.0" />
<line x1="387.14" y1="397.60" x2="387.14" y2="405.50" stroke="#222" stroke-width="1.0" />
<line x1="382.14" y1="397.60" x2="392.14" y2="397.60" stroke="#222" stroke-width="1.0" />
<line x1="382.14" y1="405.50" x2="392.14" y2="405.50" stroke="#222" stroke-width="1.0" />
<line x1="432.86" y1="393.60" x2="432.86" y2="404.30" stroke="#222" stroke-width="1.0" />
<line x1="427.86" y1="393.60" x2="437.86" y2="393.60" stroke="#222" stroke-width="1.0" />
<line x1="427.86" y1="404.30" x2="437.86" y2="404.30" stroke="#222" stroke-width="1.0" />
<line x1="478.58" y1="394.80" x2="478.58" y2="403.40" stroke="#222" stroke-width="1.0" />
<line x1="473.58" y1="394.80" x2="483.58" y2="394.80" stroke="#222" stroke-width="1.0" />
<line x1="473.58" y1="403.40" x2="483.58" y2="403.40" stroke="#222" stroke-width="1.0" />
<line x1="524.30" y1="405.30" x2="524.30" y2="413.70" stroke="#222" stroke-width="1.0" />
<line x1="519.30" y1="405.30" x2="529.30" y2="405.30" stroke="#222" stroke-width="1.0" />
<line x1="519.30" y1="413.70" x2="529.30" y2="413.70" stroke="#222" stroke-width="1.0" />
<line x1="570.02" y1="395.20" x2="570.02" y2="408.30" stroke="#222" stroke-width="1.0" />
<line x1="565.02" y1="395.20" x2="575.02" y2="395.20" stroke="#222" stroke-width="1.0" />
<line x1="565.02" y1="408.30" x2="575.02" y2="408.30" stroke="#222" stroke-width="1.0" />
<line x1="615.74" y1="398.00" x2="615.74" y2="404.30" stroke="#222" stroke-width="1.0" />
<line x1="610.74" y1="398.00" x2="620.74" y2="398.00" stroke="#222" stroke-width="1.0" />
<line x1="610.74" y1="404.30" x2="620.74" y2="404.30" stroke="#222" stroke-width="1.0" />
<line x1="661.46" y1="395.00" x2="661.46" y2="401.50" stroke="#222" stroke-width="1.0" />
<line x1="656.46" y1="395.00" x2="666.46" y2="395.00" stroke="#222" stroke-width="1.0" />
<line x1="656.46" y1="401.50" x2="666.46" y2="401.50" stroke="#222" stroke-width="1.0" />
<polyline points="67.10,400.40 112.82,428.40 158.54,436.30 204.26,449.40 249.98,452.20 295.70,460.20 341.42,461.10 387.14,463.40 432.86,464.20 478.58,464.80 524.30,465.00 570.02,465.00 615.74,465.00 661.46,465.00" fill="none" stroke="#000" stroke-width="1.0"/>
<line x1="67.10" y1="397.30" x2="67.10" y2="404.30" stroke="#000" stroke-width="1.0" />
<line x1="62.10" y1="397.30" x2="72.10" y2="397.30" stroke="#000" stroke-width="1.0" />
<line x1="62.10" y1="404.30" x2="72.10" y2="404.30" stroke="#000" stroke-width="1.0" />
<line x1="112.82" y1="423.70" x2="112.82" y2="433.10" stroke="#000" stroke-width="1.0" />
<line x1="107.82" y1="423.70" x2="117.82" y2="423.70" stroke="#000" stroke-width="1.0" />
<line x1="107.82" y1="433.10" x2="117.82" y2="433.10" stroke="#000" stroke-width="1.0" />
<line x1="158.54" y1="430.50" x2="158.54" y2="442.20" stroke="#000" stroke-width="1.0" />
<line x1="153.54" y1="430.50" x2="163.54" y2="430.50" stroke="#000" stroke-width="1.0" />
<line x1="153.54" y1="442.20" x2="163.54" y2="442.20" stroke="#000" stroke-width="1.0" />
<line x1="204.26" y1="445.00" x2="204.26" y2="454.30" stroke="#000" stroke-width="1.0" />
<line x1="199.26" y1="445.00" x2="209.26" y2="445.00" stroke="#000" stroke-width="1.0" />
<line x1="199.26" y1="454.30" x2="209.26" y2="454.30" stroke="#000" stroke-width="1.0" />
<line x1="249.98" y1="448.30" x2="249.98" y2="457.10" stroke="#000" stroke-width="1.0" />
<line x1="244.98" y1="448.30" x2="254.98" y2="448.30" stroke="#000" stroke-width="1.0" />
<line x1="244.98" y1="457.10" x2="254.98" y2="457.10" stroke="#000" stroke-width="1.0" />
<line x1="295.70" y1="457.60" x2="295.70" y2="462.70" stroke="#000" stroke-width="1.0" />
<line x1="290.70" y1="457.60" x2="300.70" y2="457.60" stroke="#000" stroke-width="1.0" />
<line x1="290.70" y1="462.70" x2="300.70" y2="462.70" stroke="#000" stroke-width="1.0" />
<line x1="341.42" y1="459.00" x2="341.42" y2="463.20" stroke="#000" stroke-width="1.0" />
<line x1="336.42" y1="459.00" x2="346.42" y2="459.00" stroke="#000" stroke-width="1.0" />
<line x1="336.42" y1="463.20" x2="346.42" y2="463.20" stroke="#000" stroke-width="1.0" />
<line x1="387.14" y1="462.00" x2="387.14" y2="465.00" stroke="#000" stroke-width="1.0" />
<line x1="382.14" y1="462.00" x2="392.14" y2="462.00" stroke="#000" stroke-width="1.0" />
<line x1="382.14" y1="465.00" x2="392.14" y2="465.00" stroke="#000" stroke-width="1.0" />
<line x1="432.86" y1="462.40" x2="432.86" y2="466.00" stroke="#000" stroke-width="1.0" />
<line x1="427.86" y1="462.40" x2="437.86" y2="462.40" stroke="#000" stroke-width="1.0" />
<line x1="427.86" y1="466.00" x2="437.86" y2="466.00" stroke="#000" stroke-width="1.0" />
<line x1="478.58" y1="463.00" x2="478.58" y2="466.60" stroke="#000" stroke-width="1.0" />
<line x1="473.58" y1="463.00" x2="483.58" y2="463.00" stroke="#000" stroke-width="1.0" />
<line x1="473.58" y1="466.60" x2="483.58" y2="466.60" stroke="#000" stroke-width="1.0" />
<line x1="524.30" y1="463.20" x2="524.30" y2="466.80" stroke="#000" stroke-width="1.0" />
<line x1="519.30" y1="463.20" x2="529.30" y2="463.20" stroke="#000" stroke-width="1.0" />
<line x1="519.30" y1="466.80" x2="529.30" y2="466.80" stroke="#000" stroke-width="1.0" />
<line x1="570.02" y1="463.20" x2="570.02" y2="466.80" stroke="#000" stroke-width="1.0" />
<line x1="565.02" y1="463.20" x2="575.02" y2="463.20" stroke="#000" stroke-width="1.0" />
<line x1="565.02" y1="466.80" x2="575.02" y2="466.80" stroke="#000" stroke-width="1.0" />
<line x1="615.74" y1="463.20" x2="615.74" y2="466.80" stroke="#000" stroke-width="1.0" />
<line x1="610.74" y1="463.20" x2="620.74" y2="463.20" stroke="#000" stroke-width="1.0" />
<line x1="610.74" y1="466.80" x2="620.74" y2="466.80" stroke="#000" stroke-width="1.0" />
<line x1="661.46" y1="463.20" x2="661.46" y2="466.80" stroke="#000" stroke-width="1.0" />
<line x1="656.46" y1="463.20" x2="666.46" y2="463.20" stroke="#000" stroke-width="1.0" />
<line x1="656.46" y1="466.80" x2="666.46" y2="466.80" stroke="#000" stroke-width="1.0" />
<path d="M67.10,397.50 L70.00,403.30 L64.20,403.30Z" fill="#000"/>
<path d="M112.82,425.50 L115.72,431.30 L109.92,431.30Z" fill="#000"/>
<path d="M158.54,433.40 L161.44,439.20 L155.64,439.20Z" fill="#000"/>
<path d="M204.26,446.50 L207.16,452.30 L201.36,452.30Z" fill="#000"/>
<path d="M249.98,449.30 L252.88,455.10 L247.08,455.10Z" fill="#000"/>
<path d="M295.70,457.30 L298.60,463.10 L292.80,463.10Z" fill="#000"/>
<path d="M341.42,458.20 L344.32,464.00 L338.52,464.00Z" fill="#000"/>
<path d="M387.14,460.50 L390.04,466.30 L384.24,466.30Z" fill="#000"/>
<path d="M432.86,461.30 L435.76,467.10 L429.96,467.10Z" fill="#000"/>
<path d="M478.58,461.90 L481.48,467.70 L475.68,467.70Z" fill="#000"/>
<path d="M524.30,462.10 L527.20,467.90 L521.40,467.90Z" fill="#000"/>
<path d="M570.02,462.10 L572.92,467.90 L567.12,467.90Z" fill="#000"/>
<path d="M615.74,462.10 L618.64,467.90 L612.84,467.90Z" fill="#000"/>
<path d="M661.46,462.10 L664.36,467.90 L658.56,467.90Z" fill="#000"/>
<line x1="44.50" y1="383.30" x2="44.50" y2="466.00" stroke="#262626" stroke-width="1.1" />
<line x1="44.00" y1="465.50" x2="684.30" y2="465.50" stroke="#262626" stroke-width="1.1" />
<line x1="41.00" y1="465.50" x2="44.50" y2="465.50" stroke="#000" stroke-width="0.8" />
<text x="37.30" y="469.10" font-size="8.6" text-anchor="end" font-weight="normal" fill="#000" >0</text>
<line x1="41.00" y1="438.10" x2="44.50" y2="438.10" stroke="#000" stroke-width="0.8" />
<text x="37.30" y="441.70" font-size="8.6" text-anchor="end" font-weight="normal" fill="#000" >150</text>
<line x1="41.00" y1="410.70" x2="44.50" y2="410.70" stroke="#000" stroke-width="0.8" />
<text x="37.30" y="414.30" font-size="8.6" text-anchor="end" font-weight="normal" fill="#000" >300</text>
<line x1="41.00" y1="383.30" x2="44.50" y2="383.30" stroke="#000" stroke-width="0.8" />
<text x="37.30" y="386.90" font-size="8.6" text-anchor="end" font-weight="normal" fill="#000" >450</text>
<line x1="67.10" y1="465.50" x2="67.10" y2="469.00" stroke="#000" stroke-width="0.8" />
<line x1="112.82" y1="465.50" x2="112.82" y2="469.00" stroke="#000" stroke-width="0.8" />
<line x1="158.54" y1="465.50" x2="158.54" y2="469.00" stroke="#000" stroke-width="0.8" />
<line x1="204.26" y1="465.50" x2="204.26" y2="469.00" stroke="#000" stroke-width="0.8" />
<line x1="249.98" y1="465.50" x2="249.98" y2="469.00" stroke="#000" stroke-width="0.8" />
<line x1="295.70" y1="465.50" x2="295.70" y2="469.00" stroke="#000" stroke-width="0.8" />
<line x1="341.42" y1="465.50" x2="341.42" y2="469.00" stroke="#000" stroke-width="0.8" />
<line x1="387.14" y1="465.50" x2="387.14" y2="469.00" stroke="#000" stroke-width="0.8" />
<line x1="432.86" y1="465.50" x2="432.86" y2="469.00" stroke="#000" stroke-width="0.8" />
<line x1="478.58" y1="465.50" x2="478.58" y2="469.00" stroke="#000" stroke-width="0.8" />
<line x1="524.30" y1="465.50" x2="524.30" y2="469.00" stroke="#000" stroke-width="0.8" />
<line x1="570.02" y1="465.50" x2="570.02" y2="469.00" stroke="#000" stroke-width="0.8" />
<line x1="615.74" y1="465.50" x2="615.74" y2="469.00" stroke="#000" stroke-width="0.8" />
<line x1="661.46" y1="465.50" x2="661.46" y2="469.00" stroke="#000" stroke-width="0.8" />
<text x="364.40" y="379.70" font-size="9.5" text-anchor="middle" font-weight="normal" fill="#000" >Class 0</text>
<text x="0.00" y="0.00" font-size="9.5" text-anchor="middle" font-weight="normal" fill="#000" transform="translate(14.3,424.40) rotate(-90)">Feature</text>
<rect x="48.85" y="507.70" width="36.50" height="65.80" fill="#d3d3d3" stroke="none" stroke-width="0" />
<rect x="94.57" y="513.00" width="36.50" height="60.50" fill="#d3d3d3" stroke="none" stroke-width="0" />
<rect x="140.29" y="507.90" width="36.50" height="65.60" fill="#d3d3d3" stroke="none" stroke-width="0" />
<rect x="186.01" y="506.00" width="36.50" height="67.50" fill="#d3d3d3" stroke="none" stroke-width="0" />
<rect x="231.73" y="507.00" width="36.50" height="66.50" fill="#d3d3d3" stroke="none" stroke-width="0" />
<rect x="277.45" y="499.70" width="36.50" height="73.80" fill="#d3d3d3" stroke="none" stroke-width="0" />
<rect x="323.17" y="529.60" width="36.50" height="43.90" fill="#d3d3d3" stroke="none" stroke-width="0" />
<rect x="368.89" y="512.30" width="36.50" height="61.20" fill="#d3d3d3" stroke="none" stroke-width="0" />
<rect x="414.61" y="500.00" width="36.50" height="73.50" fill="#d3d3d3" stroke="none" stroke-width="0" />
<rect x="460.33" y="513.00" width="36.50" height="60.50" fill="#d3d3d3" stroke="none" stroke-width="0" />
<rect x="506.05" y="507.00" width="36.50" height="66.50" fill="#d3d3d3" stroke="none" stroke-width="0" />
<rect x="551.77" y="507.90" width="36.50" height="65.60" fill="#d3d3d3" stroke="none" stroke-width="0" />
<rect x="597.49" y="507.20" width="36.50" height="66.30" fill="#d3d3d3" stroke="none" stroke-width="0" />
<rect x="643.21" y="502.90" width="36.50" height="70.60" fill="#d3d3d3" stroke="none" stroke-width="0" />
<line x1="67.10" y1="504.90" x2="67.10" y2="510.50" stroke="#222" stroke-width="1.0" />
<line x1="62.10" y1="504.90" x2="72.10" y2="504.90" stroke="#222" stroke-width="1.0" />
<line x1="62.10" y1="510.50" x2="72.10" y2="510.50" stroke="#222" stroke-width="1.0" />
<line x1="112.82" y1="510.20" x2="112.82" y2="515.40" stroke="#222" stroke-width="1.0" />
<line x1="107.82" y1="510.20" x2="117.82" y2="510.20" stroke="#222" stroke-width="1.0" />
<line x1="107.82" y1="515.40" x2="117.82" y2="515.40" stroke="#222" stroke-width="1.0" />
<line x1="158.54" y1="505.30" x2="158.54" y2="510.20" stroke="#222" stroke-width="1.0" />
<line x1="153.54" y1="505.30" x2="163.54" y2="505.30" stroke="#222" stroke-width="1.0" />
<line x1="153.54" y1="510.20" x2="163.54" y2="510.20" stroke="#222" stroke-width="1.0" />
<line x1="204.26" y1="502.30" x2="204.26" y2="509.30" stroke="#222" stroke-width="1.0" />
<line x1="199.26" y1="502.30" x2="209.26" y2="502.30" stroke="#222" stroke-width="1.0" />
<line x1="199.26" y1="509.30" x2="209.26" y2="509.30" stroke="#222" stroke-width="1.0" />
<line x1="249.98" y1="503.50" x2="249.98" y2="509.50" stroke="#222" stroke-width="1.0" />
<line x1="244.98" y1="503.50" x2="254.98" y2="503.50" stroke="#222" stroke-width="1.0" />
<line x1="244.98" y1="509.50" x2="254.98" y2="509.50" stroke="#222" stroke-width="1.0" />
<line x1="295.70" y1="496.20" x2="295.70" y2="502.30" stroke="#222" stroke-width="1.0" />
<line x1="290.70" y1="496.20" x2="300.70" y2="496.20" stroke="#222" stroke-width="1.0" />
<line x1="290.70" y1="502.30" x2="300.70" y2="502.30" stroke="#222" stroke-width="1.0" />
<line x1="341.42" y1="525.90" x2="341.42" y2="533.40" stroke="#222" stroke-width="1.0" />
<line x1="336.42" y1="525.90" x2="346.42" y2="525.90" stroke="#222" stroke-width="1.0" />
<line x1="336.42" y1="533.40" x2="346.42" y2="533.40" stroke="#222" stroke-width="1.0" />
<line x1="387.14" y1="507.90" x2="387.14" y2="516.30" stroke="#222" stroke-width="1.0" />
<line x1="382.14" y1="507.90" x2="392.14" y2="507.90" stroke="#222" stroke-width="1.0" />
<line x1="382.14" y1="516.30" x2="392.14" y2="516.30" stroke="#222" stroke-width="1.0" />
<line x1="432.86" y1="497.60" x2="432.86" y2="502.30" stroke="#222" stroke-width="1.0" />
<line x1="427.86" y1="497.60" x2="437.86" y2="497.60" stroke="#222" stroke-width="1.0" />
<line x1="427.86" y1="502.30" x2="437.86" y2="502.30" stroke="#222" stroke-width="1.0" />
<line x1="478.58" y1="509.80" x2="478.58" y2="516.30" stroke="#222" stroke-width="1.0" />
<line x1="473.58" y1="509.80" x2="483.58" y2="509.80" stroke="#222" stroke-width="1.0" />
<line x1="473.58" y1="516.30" x2="483.58" y2="516.30" stroke="#222" stroke-width="1.0" />
<line x1="524.30" y1="503.00" x2="524.30" y2="510.50" stroke="#222" stroke-width="1.0" />
<line x1="519.30" y1="503.00" x2="529.30" y2="503.00" stroke="#222" stroke-width="1.0" />
<line x1="519.30" y1="510.50" x2="529.30" y2="510.50" stroke="#222" stroke-width="1.0" />
<line x1="570.02" y1="505.30" x2="570.02" y2="510.50" stroke="#222" stroke-width="1.0" />
<line x1="565.02" y1="505.30" x2="575.02" y2="505.30" stroke="#222" stroke-width="1.0" />
<line x1="565.02" y1="510.50" x2="575.02" y2="510.50" stroke="#222" stroke-width="1.0" />
<line x1="615.74" y1="504.40" x2="615.74" y2="509.50" stroke="#222" stroke-width="1.0" />
<line x1="610.74" y1="504.40" x2="620.74" y2="504.40" stroke="#222" stroke-width="1.0" />
<line x1="610.74" y1="509.50" x2="620.74" y2="509.50" stroke="#222" stroke-width="1.0" />
<line x1="661.46" y1="500.20" x2="661.46" y2="505.50" stroke="#222" stroke-width="1.0" />
<line x1="656.46" y1="500.20" x2="666.46" y2="500.20" stroke="#222" stroke-width="1.0" />
<line x1="656.46" y1="505.50" x2="666.46" y2="505.50" stroke="#222" stroke-width="1.0" />
<polyline points="67.10,507.70 112.82,554.60 158.54,558.10 204.26,565.10 249.98,566.30 295.70,567.00 341.42,569.80 387.14,573.00 432.86,573.20 478.58,573.30 524.30,573.30 570.02,573.30 615.74,573.30 661.46,573.30" fill="none" stroke="#000" stroke-width="1.0"/>
<line x1="67.10" y1="504.90" x2="67.10" y2="510.50" stroke="#000" stroke-width="1.0" />
<line x1="62.10" y1="504.90" x2="72.10" y2="504.90" stroke="#000" stroke-width="1.0" />
<line x1="62.10" y1="510.50" x2="72.10" y2="510.50" stroke="#000" stroke-width="1.0" />
<line x1="112.82" y1="551.30" x2="112.82" y2="558.10" stroke="#000" stroke-width="1.0" />
<line x1="107.82" y1="551.30" x2="117.82" y2="551.30" stroke="#000" stroke-width="1.0" />
<line x1="107.82" y1="558.10" x2="117.82" y2="558.10" stroke="#000" stroke-width="1.0" />
<line x1="158.54" y1="554.60" x2="158.54" y2="561.40" stroke="#000" stroke-width="1.0" />
<line x1="153.54" y1="554.60" x2="163.54" y2="554.60" stroke="#000" stroke-width="1.0" />
<line x1="153.54" y1="561.40" x2="163.54" y2="561.40" stroke="#000" stroke-width="1.0" />
<line x1="204.26" y1="562.60" x2="204.26" y2="567.50" stroke="#000" stroke-width="1.0" />
<line x1="199.26" y1="562.60" x2="209.26" y2="562.60" stroke="#000" stroke-width="1.0" />
<line x1="199.26" y1="567.50" x2="209.26" y2="567.50" stroke="#000" stroke-width="1.0" />
<line x1="249.98" y1="564.00" x2="249.98" y2="569.00" stroke="#000" stroke-width="1.0" />
<line x1="244.98" y1="564.00" x2="254.98" y2="564.00" stroke="#000" stroke-width="1.0" />
<line x1="244.98" y1="569.00" x2="254.98" y2="569.00" stroke="#000" stroke-width="1.0" />
<line x1="295.70" y1="565.00" x2="295.70" y2="569.00" stroke="#000" stroke-width="1.0" />
<line x1="290.70" y1="565.00" x2="300.70" y2="565.00" stroke="#000" stroke-width="1.0" />
<line x1="290.70" y1="569.00" x2="300.70" y2="569.00" stroke="#000" stroke-width="1.0" />
<line x1="341.42" y1="568.00" x2="341.42" y2="572.00" stroke="#000" stroke-width="1.0" />
<line x1="336.42" y1="568.00" x2="346.42" y2="568.00" stroke="#000" stroke-width="1.0" />
<line x1="336.42" y1="572.00" x2="346.42" y2="572.00" stroke="#000" stroke-width="1.0" />
<line x1="387.14" y1="571.20" x2="387.14" y2="574.80" stroke="#000" stroke-width="1.0" />
<line x1="382.14" y1="571.20" x2="392.14" y2="571.20" stroke="#000" stroke-width="1.0" />
<line x1="382.14" y1="574.80" x2="392.14" y2="574.80" stroke="#000" stroke-width="1.0" />
<line x1="432.86" y1="571.40" x2="432.86" y2="575.00" stroke="#000" stroke-width="1.0" />
<line x1="427.86" y1="571.40" x2="437.86" y2="571.40" stroke="#000" stroke-width="1.0" />
<line x1="427.86" y1="575.00" x2="437.86" y2="575.00" stroke="#000" stroke-width="1.0" />
<line x1="478.58" y1="571.50" x2="478.58" y2="575.10" stroke="#000" stroke-width="1.0" />
<line x1="473.58" y1="571.50" x2="483.58" y2="571.50" stroke="#000" stroke-width="1.0" />
<line x1="473.58" y1="575.10" x2="483.58" y2="575.10" stroke="#000" stroke-width="1.0" />
<line x1="524.30" y1="571.50" x2="524.30" y2="575.10" stroke="#000" stroke-width="1.0" />
<line x1="519.30" y1="571.50" x2="529.30" y2="571.50" stroke="#000" stroke-width="1.0" />
<line x1="519.30" y1="575.10" x2="529.30" y2="575.10" stroke="#000" stroke-width="1.0" />
<line x1="570.02" y1="571.50" x2="570.02" y2="575.10" stroke="#000" stroke-width="1.0" />
<line x1="565.02" y1="571.50" x2="575.02" y2="571.50" stroke="#000" stroke-width="1.0" />
<line x1="565.02" y1="575.10" x2="575.02" y2="575.10" stroke="#000" stroke-width="1.0" />
<line x1="615.74" y1="571.50" x2="615.74" y2="575.10" stroke="#000" stroke-width="1.0" />
<line x1="610.74" y1="571.50" x2="620.74" y2="571.50" stroke="#000" stroke-width="1.0" />
<line x1="610.74" y1="575.10" x2="620.74" y2="575.10" stroke="#000" stroke-width="1.0" />
<line x1="661.46" y1="571.50" x2="661.46" y2="575.10" stroke="#000" stroke-width="1.0" />
<line x1="656.46" y1="571.50" x2="666.46" y2="571.50" stroke="#000" stroke-width="1.0" />
<line x1="656.46" y1="575.10" x2="666.46" y2="575.10" stroke="#000" stroke-width="1.0" />
<path d="M67.10,504.80 L70.00,510.60 L64.20,510.60Z" fill="#000"/>
<path d="M112.82,551.70 L115.72,557.50 L109.92,557.50Z" fill="#000"/>
<path d="M158.54,555.20 L161.44,561.00 L155.64,561.00Z" fill="#000"/>
<path d="M204.26,562.20 L207.16,568.00 L201.36,568.00Z" fill="#000"/>
<path d="M249.98,563.40 L252.88,569.20 L247.08,569.20Z" fill="#000"/>
<path d="M295.70,564.10 L298.60,569.90 L292.80,569.90Z" fill="#000"/>
<path d="M341.42,566.90 L344.32,572.70 L338.52,572.70Z" fill="#000"/>
<path d="M387.14,570.10 L390.04,575.90 L384.24,575.90Z" fill="#000"/>
<path d="M432.86,570.30 L435.76,576.10 L429.96,576.10Z" fill="#000"/>
<path d="M478.58,570.40 L481.48,576.20 L475.68,576.20Z" fill="#000"/>
<path d="M524.30,570.40 L527.20,576.20 L521.40,576.20Z" fill="#000"/>
<path d="M570.02,570.40 L572.92,576.20 L567.12,576.20Z" fill="#000"/>
<path d="M615.74,570.40 L618.64,576.20 L612.84,576.20Z" fill="#000"/>
<path d="M661.46,570.40 L664.36,576.20 L658.56,576.20Z" fill="#000"/>
<line x1="44.50" y1="491.50" x2="44.50" y2="574.00" stroke="#262626" stroke-width="1.1" />
<line x1="44.00" y1="573.50" x2="684.30" y2="573.50" stroke="#262626" stroke-width="1.1" />
<line x1="41.00" y1="573.50" x2="44.50" y2="573.50" stroke="#000" stroke-width="0.8" />
<text x="37.30" y="577.10" font-size="8.6" text-anchor="end" font-weight="normal" fill="#000" >0</text>
<line x1="41.00" y1="546.17" x2="44.50" y2="546.17" stroke="#000" stroke-width="0.8" />
<text x="37.30" y="549.77" font-size="8.6" text-anchor="end" font-weight="normal" fill="#000" >150</text>
<line x1="41.00" y1="518.83" x2="44.50" y2="518.83" stroke="#000" stroke-width="0.8" />
<text x="37.30" y="522.43" font-size="8.6" text-anchor="end" font-weight="normal" fill="#000" >300</text>
<line x1="41.00" y1="491.50" x2="44.50" y2="491.50" stroke="#000" stroke-width="0.8" />
<text x="37.30" y="495.10" font-size="8.6" text-anchor="end" font-weight="normal" fill="#000" >450</text>
<line x1="67.10" y1="573.50" x2="67.10" y2="577.00" stroke="#000" stroke-width="0.8" />
<line x1="112.82" y1="573.50" x2="112.82" y2="577.00" stroke="#000" stroke-width="0.8" />
<line x1="158.54" y1="573.50" x2="158.54" y2="577.00" stroke="#000" stroke-width="0.8" />
<line x1="204.26" y1="573.50" x2="204.26" y2="577.00" stroke="#000" stroke-width="0.8" />
<line x1="249.98" y1="573.50" x2="249.98" y2="577.00" stroke="#000" stroke-width="0.8" />
<line x1="295.70" y1="573.50" x2="295.70" y2="577.00" stroke="#000" stroke-width="0.8" />
<line x1="341.42" y1="573.50" x2="341.42" y2="577.00" stroke="#000" stroke-width="0.8" />
<line x1="387.14" y1="573.50" x2="387.14" y2="577.00" stroke="#000" stroke-width="0.8" />
<line x1="432.86" y1="573.50" x2="432.86" y2="577.00" stroke="#000" stroke-width="0.8" />
<line x1="478.58" y1="573.50" x2="478.58" y2="577.00" stroke="#000" stroke-width="0.8" />
<line x1="524.30" y1="573.50" x2="524.30" y2="577.00" stroke="#000" stroke-width="0.8" />
<line x1="570.02" y1="573.50" x2="570.02" y2="577.00" stroke="#000" stroke-width="0.8" />
<line x1="615.74" y1="573.50" x2="615.74" y2="577.00" stroke="#000" stroke-width="0.8" />
<line x1="661.46" y1="573.50" x2="661.46" y2="577.00" stroke="#000" stroke-width="0.8" />
<text x="364.40" y="487.90" font-size="9.5" text-anchor="middle" font-weight="normal" fill="#000" >Class 1</text>
<text x="0.00" y="0.00" font-size="9.5" text-anchor="middle" font-weight="normal" fill="#000" transform="translate(14.3,532.50) rotate(-90)">Feature</text>
<rect x="48.85" y="611.00" width="36.50" height="70.50" fill="#d3d3d3" stroke="none" stroke-width="0" />
<rect x="94.57" y="611.90" width="36.50" height="69.60" fill="#d3d3d3" stroke="none" stroke-width="0" />
<rect x="140.29" y="609.40" width="36.50" height="72.10" fill="#d3d3d3" stroke="none" stroke-width="0" />
<rect x="186.01" y="618.50" width="36.50" height="63.00" fill="#d3d3d3" stroke="none" stroke-width="0" />
<rect x="231.73" y="622.20" width="36.50" height="59.30" fill="#d3d3d3" stroke="none" stroke-width="0" />
<rect x="277.45" y="606.10" width="36.50" height="75.40" fill="#d3d3d3" stroke="none" stroke-width="0" />
<rect x="323.17" y="641.10" width="36.50" height="40.40" fill="#d3d3d3" stroke="none" stroke-width="0" />
<rect x="368.89" y="620.10" width="36.50" height="61.40" fill="#d3d3d3" stroke="none" stroke-width="0" />
<rect x="414.61" y="605.60" width="36.50" height="75.90" fill="#d3d3d3" stroke="none" stroke-width="0" />
<rect x="460.33" y="610.10" width="36.50" height="71.40" fill="#d3d3d3" stroke="none" stroke-width="0" />
<rect x="506.05" y="628.00" width="36.50" height="53.50" fill="#d3d3d3" stroke="none" stroke-width="0" />
<rect x="551.77" y="622.20" width="36.50" height="59.30" fill="#d3d3d3" stroke="none" stroke-width="0" />
<rect x="597.49" y="611.00" width="36.50" height="70.50" fill="#d3d3d3" stroke="none" stroke-width="0" />
<rect x="643.21" y="613.20" width="36.50" height="68.30" fill="#d3d3d3" stroke="none" stroke-width="0" />
<line x1="67.10" y1="608.70" x2="67.10" y2="613.10" stroke="#222" stroke-width="1.0" />
<line x1="62.10" y1="608.70" x2="72.10" y2="608.70" stroke="#222" stroke-width="1.0" />
<line x1="62.10" y1="613.10" x2="72.10" y2="613.10" stroke="#222" stroke-width="1.0" />
<line x1="112.82" y1="606.80" x2="112.82" y2="616.40" stroke="#222" stroke-width="1.0" />
<line x1="107.82" y1="606.80" x2="117.82" y2="606.80" stroke="#222" stroke-width="1.0" />
<line x1="107.82" y1="616.40" x2="117.82" y2="616.40" stroke="#222" stroke-width="1.0" />
<line x1="158.54" y1="606.60" x2="158.54" y2="612.20" stroke="#222" stroke-width="1.0" />
<line x1="153.54" y1="606.60" x2="163.54" y2="606.60" stroke="#222" stroke-width="1.0" />
<line x1="153.54" y1="612.20" x2="163.54" y2="612.20" stroke="#222" stroke-width="1.0" />
<line x1="204.26" y1="615.40" x2="204.26" y2="621.30" stroke="#222" stroke-width="1.0" />
<line x1="199.26" y1="615.40" x2="209.26" y2="615.40" stroke="#222" stroke-width="1.0" />
<line x1="199.26" y1="621.30" x2="209.26" y2="621.30" stroke="#222" stroke-width="1.0" />
<line x1="249.98" y1="618.90" x2="249.98" y2="625.20" stroke="#222" stroke-width="1.0" />
<line x1="244.98" y1="618.90" x2="254.98" y2="618.90" stroke="#222" stroke-width="1.0" />
<line x1="244.98" y1="625.20" x2="254.98" y2="625.20" stroke="#222" stroke-width="1.0" />
<line x1="295.70" y1="602.60" x2="295.70" y2="610.10" stroke="#222" stroke-width="1.0" />
<line x1="290.70" y1="602.60" x2="300.70" y2="602.60" stroke="#222" stroke-width="1.0" />
<line x1="290.70" y1="610.10" x2="300.70" y2="610.10" stroke="#222" stroke-width="1.0" />
<line x1="341.42" y1="636.20" x2="341.42" y2="645.30" stroke="#222" stroke-width="1.0" />
<line x1="336.42" y1="636.20" x2="346.42" y2="636.20" stroke="#222" stroke-width="1.0" />
<line x1="336.42" y1="645.30" x2="346.42" y2="645.30" stroke="#222" stroke-width="1.0" />
<line x1="387.14" y1="615.90" x2="387.14" y2="624.10" stroke="#222" stroke-width="1.0" />
<line x1="382.14" y1="615.90" x2="392.14" y2="615.90" stroke="#222" stroke-width="1.0" />
<line x1="382.14" y1="624.10" x2="392.14" y2="624.10" stroke="#222" stroke-width="1.0" />
<line x1="432.86" y1="602.80" x2="432.86" y2="608.40" stroke="#222" stroke-width="1.0" />
<line x1="427.86" y1="602.80" x2="437.86" y2="602.80" stroke="#222" stroke-width="1.0" />
<line x1="427.86" y1="608.40" x2="437.86" y2="608.40" stroke="#222" stroke-width="1.0" />
<line x1="478.58" y1="607.30" x2="478.58" y2="613.30" stroke="#222" stroke-width="1.0" />
<line x1="473.58" y1="607.30" x2="483.58" y2="607.30" stroke="#222" stroke-width="1.0" />
<line x1="473.58" y1="613.30" x2="483.58" y2="613.30" stroke="#222" stroke-width="1.0" />
<line x1="524.30" y1="624.30" x2="524.30" y2="631.50" stroke="#222" stroke-width="1.0" />
<line x1="519.30" y1="624.30" x2="529.30" y2="624.30" stroke="#222" stroke-width="1.0" />
<line x1="519.30" y1="631.50" x2="529.30" y2="631.50" stroke="#222" stroke-width="1.0" />
<line x1="570.02" y1="619.60" x2="570.02" y2="625.00" stroke="#222" stroke-width="1.0" />
<line x1="565.02" y1="619.60" x2="575.02" y2="619.60" stroke="#222" stroke-width="1.0" />
<line x1="565.02" y1="625.00" x2="575.02" y2="625.00" stroke="#222" stroke-width="1.0" />
<line x1="615.74" y1="608.00" x2="615.74" y2="613.50" stroke="#222" stroke-width="1.0" />
<line x1="610.74" y1="608.00" x2="620.74" y2="608.00" stroke="#222" stroke-width="1.0" />
<line x1="610.74" y1="613.50" x2="620.74" y2="613.50" stroke="#222" stroke-width="1.0" />
<line x1="661.46" y1="610.20" x2="661.46" y2="616.50" stroke="#222" stroke-width="1.0" />
<line x1="656.46" y1="610.20" x2="666.46" y2="610.20" stroke="#222" stroke-width="1.0" />
<line x1="656.46" y1="616.50" x2="666.46" y2="616.50" stroke="#222" stroke-width="1.0" />
<polyline points="67.10,610.80 112.82,654.40 158.54,657.00 204.26,664.00 249.98,668.20 295.70,668.50 341.42,679.00 387.14,681.00 432.86,681.20 478.58,681.20 524.30,681.20 570.02,681.20 615.74,681.20 661.46,681.20" fill="none" stroke="#000" stroke-width="1.0"/>
<line x1="67.10" y1="608.70" x2="67.10" y2="613.10" stroke="#000" stroke-width="1.0" />
<line x1="62.10" y1="608.70" x2="72.10" y2="608.70" stroke="#000" stroke-width="1.0" />
<line x1="62.10" y1="613.10" x2="72.10" y2="613.10" stroke="#000" stroke-width="1.0" />
<line x1="112.82" y1="645.60" x2="112.82" y2="663.30" stroke="#000" stroke-width="1.0" />
<line x1="107.82" y1="645.60" x2="117.82" y2="645.60" stroke="#000" stroke-width="1.0" />
<line x1="107.82" y1="663.30" x2="117.82" y2="663.30" stroke="#000" stroke-width="1.0" />
<line x1="158.54" y1="648.10" x2="158.54" y2="666.40" stroke="#000" stroke-width="1.0" />
<line x1="153.54" y1="648.10" x2="163.54" y2="648.10" stroke="#000" stroke-width="1.0" />
<line x1="153.54" y1="666.40" x2="163.54" y2="666.40" stroke="#000" stroke-width="1.0" />
<line x1="204.26" y1="655.40" x2="204.26" y2="672.90" stroke="#000" stroke-width="1.0" />
<line x1="199.26" y1="655.40" x2="209.26" y2="655.40" stroke="#000" stroke-width="1.0" />
<line x1="199.26" y1="672.90" x2="209.26" y2="672.90" stroke="#000" stroke-width="1.0" />
<line x1="249.98" y1="660.00" x2="249.98" y2="676.20" stroke="#000" stroke-width="1.0" />
<line x1="244.98" y1="660.00" x2="254.98" y2="660.00" stroke="#000" stroke-width="1.0" />
<line x1="244.98" y1="676.20" x2="254.98" y2="676.20" stroke="#000" stroke-width="1.0" />
<line x1="295.70" y1="660.50" x2="295.70" y2="676.20" stroke="#000" stroke-width="1.0" />
<line x1="290.70" y1="660.50" x2="300.70" y2="660.50" stroke="#000" stroke-width="1.0" />
<line x1="290.70" y1="676.20" x2="300.70" y2="676.20" stroke="#000" stroke-width="1.0" />
<line x1="341.42" y1="677.00" x2="341.42" y2="681.00" stroke="#000" stroke-width="1.0" />
<line x1="336.42" y1="677.00" x2="346.42" y2="677.00" stroke="#000" stroke-width="1.0" />
<line x1="336.42" y1="681.00" x2="346.42" y2="681.00" stroke="#000" stroke-width="1.0" />
<line x1="387.14" y1="679.20" x2="387.14" y2="682.80" stroke="#000" stroke-width="1.0" />
<line x1="382.14" y1="679.20" x2="392.14" y2="679.20" stroke="#000" stroke-width="1.0" />
<line x1="382.14" y1="682.80" x2="392.14" y2="682.80" stroke="#000" stroke-width="1.0" />
<line x1="432.86" y1="679.40" x2="432.86" y2="683.00" stroke="#000" stroke-width="1.0" />
<line x1="427.86" y1="679.40" x2="437.86" y2="679.40" stroke="#000" stroke-width="1.0" />
<line x1="427.86" y1="683.00" x2="437.86" y2="683.00" stroke="#000" stroke-width="1.0" />
<line x1="478.58" y1="679.40" x2="478.58" y2="683.00" stroke="#000" stroke-width="1.0" />
<line x1="473.58" y1="679.40" x2="483.58" y2="679.40" stroke="#000" stroke-width="1.0" />
<line x1="473.58" y1="683.00" x2="483.58" y2="683.00" stroke="#000" stroke-width="1.0" />
<line x1="524.30" y1="679.40" x2="524.30" y2="683.00" stroke="#000" stroke-width="1.0" />
<line x1="519.30" y1="679.40" x2="529.30" y2="679.40" stroke="#000" stroke-width="1.0" />
<line x1="519.30" y1="683.00" x2="529.30" y2="683.00" stroke="#000" stroke-width="1.0" />
<line x1="570.02" y1="679.40" x2="570.02" y2="683.00" stroke="#000" stroke-width="1.0" />
<line x1="565.02" y1="679.40" x2="575.02" y2="679.40" stroke="#000" stroke-width="1.0" />
<line x1="565.02" y1="683.00" x2="575.02" y2="683.00" stroke="#000" stroke-width="1.0" />
<line x1="615.74" y1="679.40" x2="615.74" y2="683.00" stroke="#000" stroke-width="1.0" />
<line x1="610.74" y1="679.40" x2="620.74" y2="679.40" stroke="#000" stroke-width="1.0" />
<line x1="610.74" y1="683.00" x2="620.74" y2="683.00" stroke="#000" stroke-width="1.0" />
<line x1="661.46" y1="679.40" x2="661.46" y2="683.00" stroke="#000" stroke-width="1.0" />
<line x1="656.46" y1="679.40" x2="666.46" y2="679.40" stroke="#000" stroke-width="1.0" />
<line x1="656.46" y1="683.00" x2="666.46" y2="683.00" stroke="#000" stroke-width="1.0" />
<path d="M67.10,607.90 L70.00,613.70 L64.20,613.70Z" fill="#000"/>
<path d="M112.82,651.50 L115.72,657.30 L109.92,657.30Z" fill="#000"/>
<path d="M158.54,654.10 L161.44,659.90 L155.64,659.90Z" fill="#000"/>
<path d="M204.26,661.10 L207.16,666.90 L201.36,666.90Z" fill="#000"/>
<path d="M249.98,665.30 L252.88,671.10 L247.08,671.10Z" fill="#000"/>
<path d="M295.70,665.60 L298.60,671.40 L292.80,671.40Z" fill="#000"/>
<path d="M341.42,676.10 L344.32,681.90 L338.52,681.90Z" fill="#000"/>
<path d="M387.14,678.10 L390.04,683.90 L384.24,683.90Z" fill="#000"/>
<path d="M432.86,678.30 L435.76,684.10 L429.96,684.10Z" fill="#000"/>
<path d="M478.58,678.30 L481.48,684.10 L475.68,684.10Z" fill="#000"/>
<path d="M524.30,678.30 L527.20,684.10 L521.40,684.10Z" fill="#000"/>
<path d="M570.02,678.30 L572.92,684.10 L567.12,684.10Z" fill="#000"/>
<path d="M615.74,678.30 L618.64,684.10 L612.84,684.10Z" fill="#000"/>
<path d="M661.46,678.30 L664.36,684.10 L658.56,684.10Z" fill="#000"/>
<line x1="44.50" y1="599.60" x2="44.50" y2="682.00" stroke="#262626" stroke-width="1.1" />
<line x1="44.00" y1="681.50" x2="684.30" y2="681.50" stroke="#262626" stroke-width="1.1" />
<line x1="41.00" y1="681.50" x2="44.50" y2="681.50" stroke="#000" stroke-width="0.8" />
<text x="37.30" y="685.10" font-size="8.6" text-anchor="end" font-weight="normal" fill="#000" >0</text>
<line x1="41.00" y1="654.20" x2="44.50" y2="654.20" stroke="#000" stroke-width="0.8" />
<text x="37.30" y="657.80" font-size="8.6" text-anchor="end" font-weight="normal" fill="#000" >150</text>
<line x1="41.00" y1="626.90" x2="44.50" y2="626.90" stroke="#000" stroke-width="0.8" />
<text x="37.30" y="630.50" font-size="8.6" text-anchor="end" font-weight="normal" fill="#000" >300</text>
<line x1="41.00" y1="599.60" x2="44.50" y2="599.60" stroke="#000" stroke-width="0.8" />
<text x="37.30" y="603.20" font-size="8.6" text-anchor="end" font-weight="normal" fill="#000" >450</text>
<line x1="67.10" y1="681.50" x2="67.10" y2="685.00" stroke="#000" stroke-width="0.8" />
<line x1="112.82" y1="681.50" x2="112.82" y2="685.00" stroke="#000" stroke-width="0.8" />
<line x1="158.54" y1="681.50" x2="158.54" y2="685.00" stroke="#000" stroke-width="0.8" />
<line x1="204.26" y1="681.50" x2="204.26" y2="685.00" stroke="#000" stroke-width="0.8" />
<line x1="249.98" y1="681.50" x2="249.98" y2="685.00" stroke="#000" stroke-width="0.8" />
<line x1="295.70" y1="681.50" x2="295.70" y2="685.00" stroke="#000" stroke-width="0.8" />
<line x1="341.42" y1="681.50" x2="341.42" y2="685.00" stroke="#000" stroke-width="0.8" />
<line x1="387.14" y1="681.50" x2="387.14" y2="685.00" stroke="#000" stroke-width="0.8" />
<line x1="432.86" y1="681.50" x2="432.86" y2="685.00" stroke="#000" stroke-width="0.8" />
<line x1="478.58" y1="681.50" x2="478.58" y2="685.00" stroke="#000" stroke-width="0.8" />
<line x1="524.30" y1="681.50" x2="524.30" y2="685.00" stroke="#000" stroke-width="0.8" />
<line x1="570.02" y1="681.50" x2="570.02" y2="685.00" stroke="#000" stroke-width="0.8" />
<line x1="615.74" y1="681.50" x2="615.74" y2="685.00" stroke="#000" stroke-width="0.8" />
<line x1="661.46" y1="681.50" x2="661.46" y2="685.00" stroke="#000" stroke-width="0.8" />
<text x="364.40" y="596.00" font-size="9.5" text-anchor="middle" font-weight="normal" fill="#000" >Class 2</text>
<text x="0.00" y="0.00" font-size="9.5" text-anchor="middle" font-weight="normal" fill="#000" transform="translate(14.3,640.55) rotate(-90)">Feature</text>
<text x="0" y="3.38" font-size="9.4" text-anchor="middle" transform="translate(67.10,706.29) rotate(-45)">ResNet-50</text>
<text x="0" y="3.38" font-size="9.4" text-anchor="middle" transform="translate(112.82,703.09) rotate(-45)">ViT-B/16</text>
<text x="0" y="3.38" font-size="9.4" text-anchor="middle" transform="translate(158.54,709.06) rotate(-45)">RepVGG-A2</text>
<text x="0" y="3.38" font-size="9.4" text-anchor="middle" transform="translate(204.26,700.74) rotate(-45)">Swin-T</text>
<text x="0" y="3.38" font-size="9.4" text-anchor="middle" transform="translate(249.98,701.42) rotate(-45)">PViG-S</text>
<text x="0" y="3.38" font-size="9.4" text-anchor="middle" transform="translate(295.70,716.08) rotate(-45)">ResNet-50-Adam</text>
<text x="0" y="3.38" font-size="9.4" text-anchor="middle" transform="translate(341.42,712.88) rotate(-45)">ViT-B/16-Adam</text>
<text x="0" y="3.38" font-size="9.4" text-anchor="middle" transform="translate(387.14,710.35) rotate(-45)">Swin-T-Adam</text>
<text x="0" y="3.38" font-size="9.4" text-anchor="middle" transform="translate(432.86,708.51) rotate(-45)">ResNeXt-50</text>
<text x="0" y="3.38" font-size="9.4" text-anchor="middle" transform="translate(478.58,709.06) rotate(-45)">Inception-V3</text>
<text x="0" y="3.38" font-size="9.4" text-anchor="middle" transform="translate(524.30,719.40) rotate(-45)">ConvMixer-1024/10</text>
<text x="0" y="3.38" font-size="9.4" text-anchor="middle" transform="translate(570.02,712.51) rotate(-45)">EfficientNet-B4</text>
<text x="0" y="3.38" font-size="9.4" text-anchor="middle" transform="translate(615.74,714.23) rotate(-45)">RegNetX-4.0GF</text>
<text x="0" y="3.38" font-size="9.4" text-anchor="middle" transform="translate(661.46,711.83) rotate(-45)">SE-ResNet-50</text>
<text x="364.40" y="762.80" font-size="9.5" text-anchor="middle" font-weight="normal" fill="#000" >Model</text>
</svg>
</body></html>
